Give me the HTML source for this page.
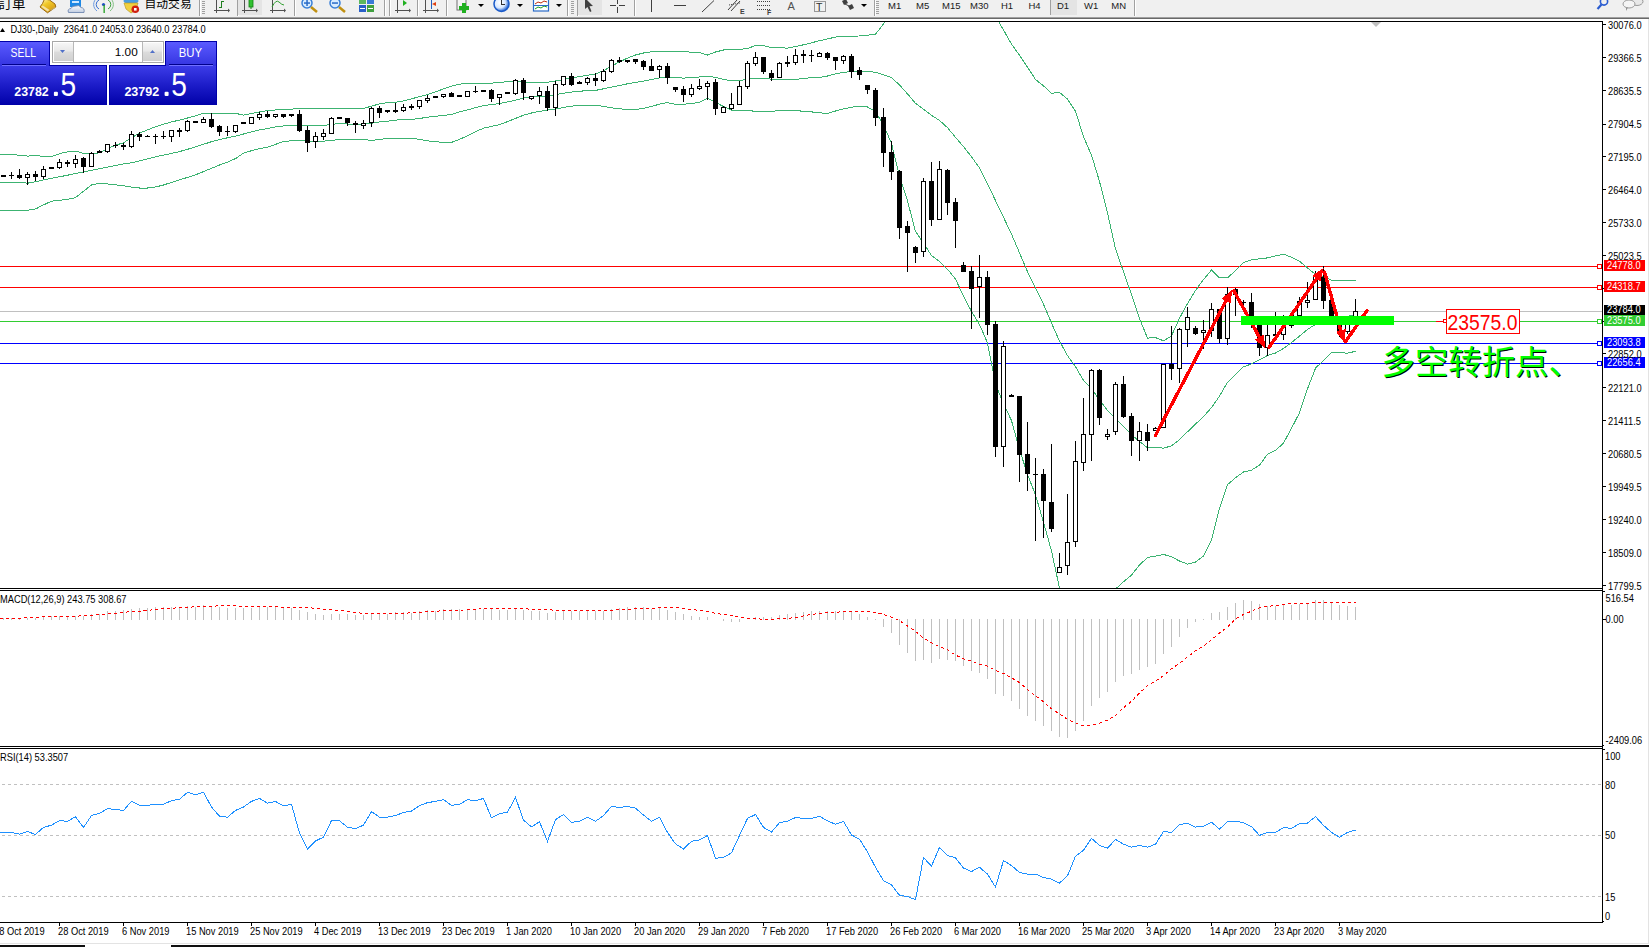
<!DOCTYPE html><html><head><meta charset="utf-8"><title>DJ30 Daily</title><style>
html,body{margin:0;padding:0;background:#fff;width:1649px;height:947px;overflow:hidden;position:relative;}
*{box-sizing:border-box}
.tb{position:absolute;left:0;top:0;width:1649px;height:17px;background:#f0f0f0;}
</style></head><body>
<div class="tb"></div>
<svg width="1649" height="17" style="position:absolute;left:0;top:0"><defs><linearGradient id="tgold" x1="0.2" y1="0" x2="0.8" y2="1"><stop offset="0" stop-color="#fff0a0"/><stop offset="0.35" stop-color="#f0c828"/><stop offset="1" stop-color="#d09010"/></linearGradient><linearGradient id="tcloud" x1="0" y1="0" x2="0" y2="1"><stop offset="0" stop-color="#ffffff"/><stop offset="1" stop-color="#c0cce0"/></linearGradient><radialGradient id="tclock" cx="0.4" cy="0.4" r="0.6"><stop offset="0" stop-color="#ffffff"/><stop offset="0.6" stop-color="#d8e8ff"/><stop offset="1" stop-color="#2060d0"/></radialGradient></defs><text x="-1.5" y="8" font-family='"Liberation Sans", "Noto Sans CJK SC", sans-serif' font-size="13.5" fill="#000">訂單</text><polygon points="44.5,-1 49.5,0 55,4 55.8,7 47.5,12.8 40,7 42.5,3.5" fill="url(#tgold)" stroke="#9a6810" stroke-width="1"/><polygon points="41.2,6.8 42.8,5.6 49.6,10 47.6,11.6" fill="#f4e0a0"/><polygon points="50.5,10 55.2,6.8 55.5,7.6 51,10.8" fill="#c8b070"/><rect x="70" y="-2" width="11" height="9" fill="#1e88e5"/><rect x="72" y="1" width="7" height="2" fill="#cfe8ff"/><path d="M68.5,12.5 Q67,9 71,8.5 Q72,5.5 76,6 Q79,4.5 81,7.5 Q85,8 84,12.5 Z" fill="url(#tcloud)" stroke="#7088b0" stroke-width="0.9"/><path d="M99,9 A5,5 0 0 1 99,0" fill="none" stroke="#3a70d0" stroke-width="1"/><path d="M97,11 A8,8 0 0 1 97,-2" fill="none" stroke="#6a98e0" stroke-width="1"/><path d="M108,0 A5,5 0 0 1 108,9" fill="none" stroke="#40a040" stroke-width="1"/><path d="M110,-2 A8,8 0 0 1 110,11" fill="none" stroke="#80c080" stroke-width="1"/><circle cx="103.5" cy="4.5" r="1.6" fill="#2050c0"/><rect x="103.5" y="5" width="1.3" height="8" fill="#20a020"/><ellipse cx="131" cy="1" rx="7.5" ry="3" fill="#4a9ee0"/><polygon points="124,3 138,3 136,10 131,13 126,9" fill="#f0d040" stroke="#b09020" stroke-width="0.6"/><circle cx="135.3" cy="9.3" r="3.8" fill="#d02010"/><rect x="134" y="8" width="2.6" height="2.6" fill="#fff"/><text x="144.5" y="8" font-family='"Liberation Sans", "Noto Sans CJK SC", sans-serif' font-size="11.8" fill="#000">自动交易</text><rect x="199" y="0" width="1" height="16" fill="#a0a0a0"/><rect x="200" y="0" width="1" height="16" fill="#ffffff"/><rect x="202" y="1" width="3" height="1" fill="#a0a0a0"/><rect x="202" y="3" width="3" height="1" fill="#a0a0a0"/><rect x="202" y="5" width="3" height="1" fill="#a0a0a0"/><rect x="202" y="7" width="3" height="1" fill="#a0a0a0"/><rect x="202" y="9" width="3" height="1" fill="#a0a0a0"/><rect x="202" y="11" width="3" height="1" fill="#a0a0a0"/><rect x="202" y="13" width="3" height="1" fill="#a0a0a0"/><rect x="216" y="0" width="1" height="13" fill="#505050"/><rect x="214" y="10" width="14" height="1" fill="#505050"/><polygon points="228,8.5 230,10.5 228,12.5" fill="#505050"/><rect x="221" y="1" width="1" height="7" fill="#208020"/><rect x="222" y="1" width="2" height="1" fill="#208020"/><rect x="219" y="7" width="2" height="1" fill="#208020"/><rect x="237" y="0" width="1" height="16" fill="#a0a0a0"/><rect x="238" y="0" width="1" height="16" fill="#ffffff"/><rect x="238" y="0" width="24" height="15" fill="#e4e4e4"/><rect x="244" y="0" width="1" height="13" fill="#505050"/><rect x="242" y="10" width="14" height="1" fill="#505050"/><polygon points="256,8.5 258,10.5 256,12.5" fill="#505050"/><rect x="249" y="-1" width="4" height="8" fill="#30c030" stroke="#108010" stroke-width="0.8"/><rect x="250.5" y="7" width="1" height="2" fill="#108010"/><rect x="272" y="0" width="1" height="13" fill="#505050"/><rect x="270" y="10" width="14" height="1" fill="#505050"/><polygon points="284,8.5 286,10.5 284,12.5" fill="#505050"/><path d="M272,7 Q276,-1 279,2 T284,5" fill="none" stroke="#30a030" stroke-width="1"/><rect x="294" y="0" width="1" height="16" fill="#a0a0a0"/><rect x="295" y="0" width="1" height="16" fill="#ffffff"/><circle cx="307" cy="3" r="5" fill="#d8ecff" stroke="#3a80d8" stroke-width="1.5"/><line x1="311" y1="7" x2="317" y2="12" stroke="#c09010" stroke-width="2.5"/><rect x="304" y="2.3" width="6" height="1.5" fill="#2a6cc8"/><rect x="306.3" y="0" width="1.5" height="6" fill="#2a6cc8"/><circle cx="335" cy="3" r="5" fill="#d8ecff" stroke="#3a80d8" stroke-width="1.5"/><line x1="339" y1="7" x2="345" y2="12" stroke="#c09010" stroke-width="2.5"/><rect x="332" y="2.3" width="6" height="1.5" fill="#2a6cc8"/><rect x="359" y="-2" width="7" height="6" fill="#5cb85c"/><rect x="367" y="-2" width="7" height="6" fill="#3a7ad8"/><rect x="359" y="5" width="7" height="7" fill="#2a60c8"/><rect x="367" y="5" width="7" height="7" fill="#40a040"/><rect x="360" y="8" width="5" height="1" fill="#fff"/><rect x="368" y="8" width="5" height="1" fill="#fff"/><rect x="384" y="0" width="1" height="16" fill="#a0a0a0"/><rect x="385" y="0" width="1" height="16" fill="#ffffff"/><rect x="389" y="0" width="1" height="16" fill="#a0a0a0"/><rect x="390" y="0" width="1" height="16" fill="#ffffff"/><rect x="397" y="0" width="1" height="13" fill="#505050"/><rect x="395" y="10" width="14" height="1" fill="#505050"/><polygon points="409,8.5 411,10.5 409,12.5" fill="#505050"/><polygon points="403,0 407,3 403,6" fill="#20b020"/><rect x="417" y="0" width="1" height="16" fill="#a0a0a0"/><rect x="418" y="0" width="1" height="16" fill="#ffffff"/><rect x="425" y="0" width="1" height="13" fill="#505050"/><rect x="423" y="10" width="14" height="1" fill="#505050"/><polygon points="437,8.5 439,10.5 437,12.5" fill="#505050"/><rect x="431" y="0" width="1" height="9" fill="#2060c0"/><polygon points="432,4 436,2 436,6" fill="#e04010"/><rect x="446" y="0" width="1" height="16" fill="#a0a0a0"/><rect x="447" y="0" width="1" height="16" fill="#ffffff"/><rect x="457" y="-1" width="9" height="11" fill="#f4f4f4" stroke="#707070" stroke-width="1"/><rect x="462" y="3" width="4" height="10" fill="#20b020"/><rect x="459" y="6" width="10" height="4" fill="#20b020"/><polygon points="478,4 484,4 481,7" fill="#000"/><circle cx="501.5" cy="4" r="7.5" fill="url(#tclock)" stroke="#1a5ac8" stroke-width="1.5"/><rect x="501" y="0" width="1" height="5" fill="#303030"/><rect x="501" y="4" width="4" height="1" fill="#303030"/><polygon points="517,4 523,4 520,7" fill="#000"/><rect x="533.5" y="-1" width="15" height="12" fill="#fff" stroke="#2a6cc8" stroke-width="1.2"/><polyline points="535,4 538,2 541,3 544,1 547,2" fill="none" stroke="#c03010" stroke-width="1"/><polyline points="535,9 538,7 541,8 544,6 547,7" fill="none" stroke="#20a020" stroke-width="1"/><rect x="534" y="5" width="14" height="1" fill="#2a6cc8"/><polygon points="556,4 562,4 559,7" fill="#000"/><rect x="567" y="0" width="1" height="16" fill="#a0a0a0"/><rect x="568" y="0" width="1" height="16" fill="#ffffff"/><rect x="571" y="1" width="3" height="1" fill="#a0a0a0"/><rect x="571" y="3" width="3" height="1" fill="#a0a0a0"/><rect x="571" y="5" width="3" height="1" fill="#a0a0a0"/><rect x="571" y="7" width="3" height="1" fill="#a0a0a0"/><rect x="571" y="9" width="3" height="1" fill="#a0a0a0"/><rect x="571" y="11" width="3" height="1" fill="#a0a0a0"/><rect x="571" y="13" width="3" height="1" fill="#a0a0a0"/><rect x="577" y="0" width="1" height="16" fill="#a0a0a0"/><rect x="578" y="0" width="1" height="16" fill="#ffffff"/><rect x="578" y="0" width="24" height="15" fill="#e4e4e4"/><polygon points="585,-2 585,9 587.5,7 590,12 591.5,11.3 589.5,6.3 593,6" fill="#404040"/><rect x="610" y="5" width="15" height="1" fill="#404040"/><rect x="617" y="-2" width="1" height="15" fill="#404040"/><rect x="616" y="4" width="3" height="3" fill="#f0f0f0"/><rect x="634" y="0" width="1" height="16" fill="#a0a0a0"/><rect x="635" y="0" width="1" height="16" fill="#ffffff"/><rect x="651" y="0" width="1" height="12" fill="#404040"/><rect x="674" y="5" width="12" height="1" fill="#404040"/><line x1="702" y1="12" x2="714" y2="0.5" stroke="#404040" stroke-width="1"/><line x1="728" y1="10" x2="737" y2="0" stroke="#404040" stroke-width="1"/><line x1="731" y1="11" x2="740" y2="1" stroke="#404040" stroke-width="1"/><line x1="729" y1="5" x2="740" y2="3" stroke="#404040" stroke-width="1" stroke-dasharray="1 1"/><text x="740" y="14" font-family='"Liberation Sans", "DejaVu Sans", sans-serif' font-size="7" font-weight="bold" fill="#404040">E</text><line x1="757" y1="1.5" x2="770" y2="1.5" stroke="#404040" stroke-width="1" stroke-dasharray="1 1"/><line x1="757" y1="5.5" x2="770" y2="5.5" stroke="#404040" stroke-width="1" stroke-dasharray="1 1"/><line x1="757" y1="9.5" x2="770" y2="9.5" stroke="#404040" stroke-width="1" stroke-dasharray="1 1"/><text x="767" y="14.5" font-family='"Liberation Sans", "DejaVu Sans", sans-serif' font-size="7" font-weight="bold" fill="#404040">F</text><text x="787.5" y="10" font-family='"Liberation Sans", "DejaVu Sans", sans-serif' font-size="11" fill="#505050">A</text><rect x="814.5" y="1.5" width="11" height="10" fill="none" stroke="#404040" stroke-width="1" stroke-dasharray="1 1"/><text x="816" y="10.5" font-family='"Liberation Sans", "DejaVu Sans", sans-serif' font-size="10.5" fill="#303030">T</text><polygon points="842,1 846,-1 848,3 844,5" fill="#404040"/><polygon points="848,6 852,4 854,8 850,10" fill="#404040"/><line x1="845" y1="4" x2="851" y2="7" stroke="#404040" stroke-width="1"/><polygon points="861,4 867,4 864,7" fill="#000"/><rect x="874" y="0" width="1" height="16" fill="#a0a0a0"/><rect x="875" y="0" width="1" height="16" fill="#ffffff"/><rect x="876" y="1" width="3" height="1" fill="#a0a0a0"/><rect x="876" y="3" width="3" height="1" fill="#a0a0a0"/><rect x="876" y="5" width="3" height="1" fill="#a0a0a0"/><rect x="876" y="7" width="3" height="1" fill="#a0a0a0"/><rect x="876" y="9" width="3" height="1" fill="#a0a0a0"/><rect x="876" y="11" width="3" height="1" fill="#a0a0a0"/><rect x="876" y="13" width="3" height="1" fill="#a0a0a0"/><rect x="1051" y="0" width="26" height="15" fill="#e4e4e4"/><rect x="1050" y="0" width="1" height="15" fill="#a0a0a0"/><text x="888" y="9" font-family='"Liberation Sans", "DejaVu Sans", sans-serif' font-size="9.5" fill="#202020">M1</text><text x="916" y="9" font-family='"Liberation Sans", "DejaVu Sans", sans-serif' font-size="9.5" fill="#202020">M5</text><text x="942" y="9" font-family='"Liberation Sans", "DejaVu Sans", sans-serif' font-size="9.5" fill="#202020">M15</text><text x="970" y="9" font-family='"Liberation Sans", "DejaVu Sans", sans-serif' font-size="9.5" fill="#202020">M30</text><text x="1001" y="9" font-family='"Liberation Sans", "DejaVu Sans", sans-serif' font-size="9.5" fill="#202020">H1</text><text x="1028.5" y="9" font-family='"Liberation Sans", "DejaVu Sans", sans-serif' font-size="9.5" fill="#202020">H4</text><text x="1057" y="9" font-family='"Liberation Sans", "DejaVu Sans", sans-serif' font-size="9.5" fill="#202020">D1</text><text x="1084" y="9" font-family='"Liberation Sans", "DejaVu Sans", sans-serif' font-size="9.5" fill="#202020">W1</text><text x="1111.3" y="9" font-family='"Liberation Sans", "DejaVu Sans", sans-serif' font-size="9.5" fill="#202020">MN</text><rect x="1134" y="0" width="1" height="16" fill="#a0a0a0"/><rect x="1135" y="0" width="1" height="16" fill="#ffffff"/><circle cx="1604" cy="1.5" r="3.6" fill="none" stroke="#2a5cd0" stroke-width="1.6"/><line x1="1601.5" y1="4.5" x2="1597.5" y2="9" stroke="#2a5cd0" stroke-width="2.2"/><ellipse cx="1637" cy="1.5" rx="6" ry="4" fill="#e8e8e8" stroke="#909090" stroke-width="0.9"/><ellipse cx="1629" cy="4" rx="6" ry="4" fill="#f4f4f4" stroke="#909090" stroke-width="0.9"/><polygon points="1626,7.5 1628,7.5 1626,11" fill="#909090"/></svg>
<div style="position:absolute;left:0;top:17px;width:1649px;height:1px;background:#a0a0a0"></div>
<div style="position:absolute;left:0;top:18px;width:1649px;height:1px;background:#696969"></div>
<svg width="1649" height="947" viewBox="0 0 1649 947" style="position:absolute;left:0;top:0" shape-rendering="crispEdges"><defs><clipPath id="cm"><rect x="0" y="22" width="1602" height="566"/></clipPath><clipPath id="cd"><rect x="0" y="591" width="1602" height="155"/></clipPath><clipPath id="cr"><rect x="0" y="749" width="1602" height="173"/></clipPath></defs><g clip-path="url(#cm)"><rect x="0" y="266" width="1602" height="1" fill="#ff0000"/><rect x="0" y="287" width="1602" height="1" fill="#ff0000"/><rect x="0" y="311" width="1602" height="1" fill="#c0c0c0"/><rect x="0" y="321" width="1602" height="1" fill="#32cd32"/><rect x="0" y="343" width="1602" height="1" fill="#0000ff"/><rect x="0" y="363" width="1602" height="1" fill="#0000ff"/><polyline points="-4.5,154.5 3.5,154.5 11.5,154.5 19.5,155.3 27.5,156.1 35.5,155.4 43.5,156.4 51.5,156.4 59.5,153.7 67.5,151.8 75.5,151.2 83.5,153.3 91.5,154.4 99.5,152.8 107.5,148.5 115.5,145.2 123.5,142.8 131.5,137.6 139.5,133.2 147.5,129.8 155.5,126.8 163.5,124.2 171.5,121.9 179.5,120.1 187.5,118.0 195.5,115.9 203.5,113.2 211.5,113.2 219.5,113.2 227.5,113.3 235.5,113.3 243.5,115.2 251.5,113.4 259.5,111.9 267.5,110.7 275.5,110.0 283.5,109.5 291.5,109.1 299.5,108.7 307.5,108.4 315.5,108.8 323.5,108.9 331.5,108.1 339.5,108.1 347.5,108.1 355.5,108.3 363.5,108.5 371.5,106.1 379.5,103.9 387.5,102.7 395.5,102.2 403.5,100.9 411.5,98.8 419.5,96.7 427.5,94.6 435.5,91.8 443.5,88.9 451.5,86.1 459.5,84.1 467.5,83.7 475.5,83.4 483.5,83.2 491.5,83.1 499.5,82.5 507.5,81.6 515.5,81.7 523.5,81.9 531.5,82.2 539.5,82.2 547.5,82.2 555.5,81.0 563.5,79.5 571.5,78.0 579.5,76.6 587.5,75.2 595.5,73.9 603.5,70.7 611.5,66.1 619.5,61.9 627.5,58.1 635.5,55.0 643.5,53.0 651.5,51.7 659.5,51.1 667.5,51.1 675.5,51.1 683.5,51.1 691.5,52.5 699.5,52.5 707.5,55.0 715.5,52.0 723.5,50.0 731.5,49.5 739.5,49.5 747.5,48.4 755.5,45.6 763.5,45.6 771.5,47.5 779.5,47.6 787.5,48.2 795.5,46.5 803.5,44.8 811.5,42.8 819.5,40.7 827.5,38.9 835.5,37.1 843.5,36.2 851.5,36.1 859.5,36.0 867.5,35.2 875.5,34.2 883.5,24.0 891.5,12.5 899.5,0.7 907.5,-2.2 915.5,-4.7 923.5,-7.0 931.5,-9.4 939.5,-11.8 947.5,-10.0 955.5,-7.9 963.5,-5.7 971.5,-3.6 979.5,-1.5 987.5,3.9 995.5,16.3 1003.5,29.9 1011.5,44.2 1019.5,55.2 1027.5,67.1 1035.5,79.5 1043.5,85.9 1051.5,93.2 1059.5,92.5 1067.5,99.1 1075.5,111.2 1083.5,136.7 1091.5,155.2 1099.5,181.4 1107.5,212.9 1115.5,248.8 1123.5,271.8 1131.5,294.5 1139.5,318.5 1147.5,338.1 1155.5,337.6 1163.5,340.8 1171.5,335.9 1179.5,318.2 1187.5,303.5 1195.5,290.4 1203.5,279.6 1211.5,269.9 1219.5,278.0 1227.5,277.9 1235.5,270.6 1243.5,262.6 1251.5,259.8 1259.5,258.8 1267.5,257.9 1275.5,255.9 1283.5,254.2 1291.5,257.2 1299.5,261.2 1307.5,267.9 1315.5,274.4 1323.5,276.6 1331.5,280.1 1339.5,280.3 1347.5,280.3 1355.5,280.3" fill="none" stroke="#3cb371" stroke-width="1" /><polyline points="-4.5,182.3 3.5,182.3 11.5,182.3 19.5,182.3 27.5,183.2 35.5,181.7 43.5,179.9 51.5,178.3 59.5,176.8 67.5,175.2 75.5,173.6 83.5,172.0 91.5,170.4 99.5,168.8 107.5,167.1 115.5,165.5 123.5,163.9 131.5,162.8 139.5,160.9 147.5,158.9 155.5,156.8 163.5,155.1 171.5,153.4 179.5,151.6 187.5,149.3 195.5,146.9 203.5,144.3 211.5,141.7 219.5,139.5 227.5,137.8 235.5,136.2 243.5,134.0 251.5,131.9 259.5,129.9 267.5,128.5 275.5,127.0 283.5,125.9 291.5,125.1 299.5,125.0 307.5,125.6 315.5,125.6 323.5,125.5 331.5,124.4 339.5,123.5 347.5,124.0 355.5,124.5 363.5,124.3 371.5,123.2 379.5,122.0 387.5,121.2 395.5,120.1 403.5,119.5 411.5,119.5 419.5,118.5 427.5,117.2 435.5,116.2 443.5,115.6 451.5,114.4 459.5,111.9 467.5,109.9 475.5,107.7 483.5,105.5 491.5,104.7 499.5,103.5 507.5,101.9 515.5,100.2 523.5,98.0 531.5,96.7 539.5,96.4 547.5,96.2 555.5,94.6 563.5,93.2 571.5,92.1 579.5,91.2 587.5,90.7 595.5,90.4 603.5,88.8 611.5,87.1 619.5,85.6 627.5,83.8 635.5,82.3 643.5,81.2 651.5,79.4 659.5,78.0 667.5,77.3 675.5,77.3 683.5,78.2 691.5,77.2 699.5,77.0 707.5,76.4 715.5,77.3 723.5,79.5 731.5,80.6 739.5,80.6 747.5,79.2 755.5,78.5 763.5,78.5 771.5,79.1 779.5,79.4 787.5,79.5 795.5,79.5 803.5,78.5 811.5,77.7 819.5,77.4 827.5,76.0 835.5,73.9 843.5,72.2 851.5,71.7 859.5,71.4 867.5,71.3 875.5,72.4 883.5,74.7 891.5,77.6 899.5,85.0 907.5,93.9 915.5,103.3 923.5,109.3 931.5,115.3 939.5,120.4 947.5,127.7 955.5,137.3 963.5,146.7 971.5,156.7 979.5,168.0 987.5,183.8 995.5,200.6 1003.5,217.3 1011.5,234.1 1019.5,252.9 1027.5,271.7 1035.5,288.3 1043.5,304.3 1051.5,323.0 1059.5,341.1 1067.5,355.6 1075.5,366.7 1083.5,380.3 1091.5,388.3 1099.5,400.2 1107.5,410.4 1115.5,418.9 1123.5,426.5 1131.5,434.7 1139.5,441.4 1147.5,447.8 1155.5,447.6 1163.5,448.1 1171.5,445.9 1179.5,439.6 1187.5,431.8 1195.5,424.1 1203.5,416.7 1211.5,407.6 1219.5,396.1 1227.5,382.3 1235.5,374.8 1243.5,366.8 1251.5,363.9 1259.5,359.9 1267.5,355.5 1275.5,353.0 1283.5,348.5 1291.5,342.6 1299.5,336.1 1307.5,329.5 1315.5,324.3 1323.5,321.4 1331.5,318.8 1339.5,317.5 1347.5,316.3 1355.5,315.1" fill="none" stroke="#3cb371" stroke-width="1" /><polyline points="-4.5,210.2 3.5,210.2 11.5,210.2 19.5,210.2 27.5,210.2 35.5,209.0 43.5,204.9 51.5,201.2 59.5,200.4 67.5,199.3 75.5,197.6 83.5,191.3 91.5,185.0 99.5,183.1 107.5,184.0 115.5,184.9 123.5,185.7 131.5,187.1 139.5,188.0 147.5,188.0 155.5,187.0 163.5,185.0 171.5,182.4 179.5,179.9 187.5,177.4 195.5,174.8 203.5,171.6 211.5,168.3 219.5,165.0 227.5,162.2 235.5,158.6 243.5,153.2 251.5,150.7 259.5,148.5 267.5,147.3 275.5,144.4 283.5,141.5 291.5,140.8 299.5,140.7 307.5,141.0 315.5,141.1 323.5,141.2 331.5,140.3 339.5,139.6 347.5,139.3 355.5,139.3 363.5,139.4 371.5,140.5 379.5,139.4 387.5,138.5 395.5,138.5 403.5,138.5 411.5,138.5 419.5,139.3 427.5,140.8 435.5,141.8 443.5,142.3 451.5,142.4 459.5,139.4 467.5,135.7 475.5,131.7 483.5,128.2 491.5,126.4 499.5,124.6 507.5,121.6 515.5,118.4 523.5,115.2 531.5,113.0 539.5,111.4 547.5,110.1 555.5,109.1 563.5,107.5 571.5,106.1 579.5,105.5 587.5,105.2 595.5,105.2 603.5,106.4 611.5,107.8 619.5,108.8 627.5,109.4 635.5,109.4 643.5,108.4 651.5,106.5 659.5,104.1 667.5,102.6 675.5,104.3 683.5,104.3 691.5,103.5 699.5,102.3 707.5,98.4 715.5,102.4 723.5,106.5 731.5,110.2 739.5,110.2 747.5,110.2 755.5,111.5 763.5,111.5 771.5,111.5 779.5,110.3 787.5,110.4 795.5,110.7 803.5,111.2 811.5,111.9 819.5,112.8 827.5,113.4 835.5,111.0 843.5,108.9 851.5,107.2 859.5,106.4 867.5,107.0 875.5,111.6 883.5,124.9 891.5,143.4 899.5,176.4 907.5,200.8 915.5,231.5 923.5,242.9 931.5,255.7 939.5,261.3 947.5,269.2 955.5,279.1 963.5,296.1 971.5,311.4 979.5,324.5 987.5,342.9 995.5,384.0 1003.5,403.8 1011.5,420.6 1019.5,449.4 1027.5,474.5 1035.5,494.9 1043.5,522.1 1051.5,551.0 1059.5,587.9 1067.5,601.9 1075.5,615.2 1083.5,618.0 1091.5,620.8 1099.5,616.9 1107.5,607.8 1115.5,589.0 1123.5,581.8 1131.5,575.1 1139.5,565.0 1147.5,557.5 1155.5,556.1 1163.5,554.4 1171.5,556.8 1179.5,561.0 1187.5,564.1 1195.5,562.0 1203.5,556.0 1211.5,540.3 1219.5,508.5 1227.5,484.7 1235.5,477.8 1243.5,472.0 1251.5,470.1 1259.5,465.1 1267.5,454.3 1275.5,450.4 1283.5,443.2 1291.5,428.3 1299.5,412.8 1307.5,388.9 1315.5,368.2 1323.5,360.3 1331.5,352.3 1339.5,352.5 1347.5,353.2 1355.5,351.3" fill="none" stroke="#3cb371" stroke-width="1" /><rect x="3" y="175" width="1" height="2" fill="#000"/><rect x="1" y="175" width="5" height="2" fill="#000"/><rect x="11" y="172" width="1" height="7" fill="#000"/><rect x="9" y="175" width="5" height="1" fill="#000"/><rect x="19" y="169" width="1" height="10" fill="#000"/><rect x="17" y="175" width="5" height="3" fill="#000"/><rect x="27" y="172" width="1" height="13" fill="#000"/><rect x="25" y="174" width="5" height="4" fill="#000"/><rect x="26" y="175" width="3" height="2" fill="#fff"/><rect x="35" y="171" width="1" height="10" fill="#000"/><rect x="33" y="174" width="5" height="3" fill="#000"/><rect x="43" y="166" width="1" height="13" fill="#000"/><rect x="41" y="169" width="5" height="8" fill="#000"/><rect x="42" y="170" width="3" height="6" fill="#fff"/><rect x="51" y="167" width="1" height="2" fill="#000"/><rect x="49" y="167" width="5" height="2" fill="#000"/><rect x="59" y="159" width="1" height="10" fill="#000"/><rect x="57" y="162" width="5" height="6" fill="#000"/><rect x="58" y="163" width="3" height="4" fill="#fff"/><rect x="67" y="160" width="1" height="7" fill="#000"/><rect x="65" y="162" width="5" height="2" fill="#000"/><rect x="75" y="155" width="1" height="13" fill="#000"/><rect x="73" y="159" width="5" height="5" fill="#000"/><rect x="74" y="160" width="3" height="3" fill="#fff"/><rect x="83" y="157" width="1" height="16" fill="#000"/><rect x="81" y="158" width="5" height="9" fill="#000"/><rect x="91" y="152" width="1" height="15" fill="#000"/><rect x="89" y="153" width="5" height="14" fill="#000"/><rect x="90" y="154" width="3" height="12" fill="#fff"/><rect x="99" y="150" width="1" height="3" fill="#000"/><rect x="97" y="151" width="5" height="2" fill="#000"/><rect x="107" y="144" width="1" height="9" fill="#000"/><rect x="105" y="144" width="5" height="8" fill="#000"/><rect x="106" y="145" width="3" height="6" fill="#fff"/><rect x="115" y="142" width="1" height="6" fill="#000"/><rect x="113" y="145" width="5" height="1" fill="#000"/><rect x="123" y="143" width="1" height="7" fill="#000"/><rect x="121" y="145" width="5" height="2" fill="#000"/><rect x="131" y="131" width="1" height="17" fill="#000"/><rect x="129" y="134" width="5" height="13" fill="#000"/><rect x="130" y="135" width="3" height="11" fill="#fff"/><rect x="139" y="132" width="1" height="9" fill="#000"/><rect x="137" y="134" width="5" height="3" fill="#000"/><rect x="147" y="135" width="1" height="2" fill="#000"/><rect x="145" y="136" width="5" height="1" fill="#000"/><rect x="155" y="134" width="1" height="10" fill="#000"/><rect x="153" y="136" width="5" height="1" fill="#000"/><rect x="163" y="131" width="1" height="8" fill="#000"/><rect x="161" y="136" width="5" height="1" fill="#000"/><rect x="171" y="130" width="1" height="12" fill="#000"/><rect x="169" y="130" width="5" height="7" fill="#000"/><rect x="170" y="131" width="3" height="5" fill="#fff"/><rect x="179" y="128" width="1" height="9" fill="#000"/><rect x="177" y="130" width="5" height="2" fill="#000"/><rect x="187" y="120" width="1" height="12" fill="#000"/><rect x="185" y="121" width="5" height="10" fill="#000"/><rect x="186" y="122" width="3" height="8" fill="#fff"/><rect x="195" y="121" width="1" height="2" fill="#000"/><rect x="193" y="121" width="5" height="2" fill="#000"/><rect x="203" y="117" width="1" height="6" fill="#000"/><rect x="201" y="119" width="5" height="4" fill="#000"/><rect x="202" y="120" width="3" height="2" fill="#fff"/><rect x="211" y="113" width="1" height="15" fill="#000"/><rect x="209" y="119" width="5" height="8" fill="#000"/><rect x="219" y="125" width="1" height="11" fill="#000"/><rect x="217" y="126" width="5" height="6" fill="#000"/><rect x="227" y="126" width="1" height="10" fill="#000"/><rect x="225" y="131" width="5" height="1" fill="#000"/><rect x="235" y="125" width="1" height="8" fill="#000"/><rect x="233" y="125" width="5" height="7" fill="#000"/><rect x="234" y="126" width="3" height="5" fill="#fff"/><rect x="243" y="122" width="1" height="2" fill="#000"/><rect x="241" y="122" width="5" height="2" fill="#000"/><rect x="251" y="117" width="1" height="7" fill="#000"/><rect x="249" y="117" width="5" height="7" fill="#000"/><rect x="250" y="118" width="3" height="5" fill="#fff"/><rect x="259" y="112" width="1" height="8" fill="#000"/><rect x="257" y="114" width="5" height="4" fill="#000"/><rect x="258" y="115" width="3" height="2" fill="#fff"/><rect x="267" y="111" width="1" height="7" fill="#000"/><rect x="265" y="114" width="5" height="3" fill="#000"/><rect x="275" y="114" width="1" height="4" fill="#000"/><rect x="273" y="114" width="5" height="3" fill="#000"/><rect x="274" y="115" width="3" height="1" fill="#fff"/><rect x="283" y="114" width="1" height="4" fill="#000"/><rect x="281" y="114" width="5" height="3" fill="#000"/><rect x="291" y="114" width="1" height="3" fill="#000"/><rect x="289" y="114" width="5" height="2" fill="#000"/><rect x="299" y="110" width="1" height="22" fill="#000"/><rect x="297" y="114" width="5" height="17" fill="#000"/><rect x="307" y="126" width="1" height="26" fill="#000"/><rect x="305" y="130" width="5" height="13" fill="#000"/><rect x="315" y="132" width="1" height="16" fill="#000"/><rect x="313" y="136" width="5" height="6" fill="#000"/><rect x="314" y="137" width="3" height="4" fill="#fff"/><rect x="323" y="129" width="1" height="11" fill="#000"/><rect x="321" y="133" width="5" height="4" fill="#000"/><rect x="322" y="134" width="3" height="2" fill="#fff"/><rect x="331" y="117" width="1" height="17" fill="#000"/><rect x="329" y="118" width="5" height="16" fill="#000"/><rect x="330" y="119" width="3" height="14" fill="#fff"/><rect x="339" y="117" width="1" height="2" fill="#000"/><rect x="337" y="117" width="5" height="2" fill="#000"/><rect x="347" y="118" width="1" height="8" fill="#000"/><rect x="345" y="118" width="5" height="5" fill="#000"/><rect x="355" y="121" width="1" height="12" fill="#000"/><rect x="353" y="123" width="5" height="2" fill="#000"/><rect x="363" y="120" width="1" height="9" fill="#000"/><rect x="361" y="123" width="5" height="3" fill="#000"/><rect x="362" y="124" width="3" height="1" fill="#fff"/><rect x="371" y="107" width="1" height="20" fill="#000"/><rect x="369" y="108" width="5" height="15" fill="#000"/><rect x="370" y="109" width="3" height="13" fill="#fff"/><rect x="379" y="106" width="1" height="12" fill="#000"/><rect x="377" y="108" width="5" height="5" fill="#000"/><rect x="387" y="110" width="1" height="3" fill="#000"/><rect x="385" y="110" width="5" height="2" fill="#000"/><rect x="395" y="103" width="1" height="10" fill="#000"/><rect x="393" y="110" width="5" height="2" fill="#000"/><rect x="403" y="104" width="1" height="8" fill="#000"/><rect x="401" y="107" width="5" height="4" fill="#000"/><rect x="402" y="108" width="3" height="2" fill="#fff"/><rect x="411" y="104" width="1" height="6" fill="#000"/><rect x="409" y="106" width="5" height="2" fill="#000"/><rect x="419" y="100" width="1" height="9" fill="#000"/><rect x="417" y="100" width="5" height="7" fill="#000"/><rect x="418" y="101" width="3" height="5" fill="#fff"/><rect x="427" y="95" width="1" height="8" fill="#000"/><rect x="425" y="98" width="5" height="3" fill="#000"/><rect x="426" y="99" width="3" height="1" fill="#fff"/><rect x="435" y="96" width="1" height="2" fill="#000"/><rect x="433" y="96" width="5" height="2" fill="#000"/><rect x="443" y="94" width="1" height="4" fill="#000"/><rect x="441" y="94" width="5" height="3" fill="#000"/><rect x="442" y="95" width="3" height="1" fill="#fff"/><rect x="451" y="92" width="1" height="5" fill="#000"/><rect x="449" y="93" width="5" height="4" fill="#000"/><rect x="459" y="95" width="1" height="2" fill="#000"/><rect x="457" y="95" width="5" height="2" fill="#000"/><rect x="467" y="91" width="1" height="6" fill="#000"/><rect x="465" y="91" width="5" height="6" fill="#000"/><rect x="466" y="92" width="3" height="4" fill="#fff"/><rect x="475" y="86" width="1" height="7" fill="#000"/><rect x="473" y="91" width="5" height="1" fill="#000"/><rect x="483" y="90" width="1" height="2" fill="#000"/><rect x="481" y="90" width="5" height="2" fill="#000"/><rect x="491" y="89" width="1" height="13" fill="#000"/><rect x="489" y="90" width="5" height="9" fill="#000"/><rect x="499" y="94" width="1" height="11" fill="#000"/><rect x="497" y="94" width="5" height="4" fill="#000"/><rect x="498" y="95" width="3" height="2" fill="#fff"/><rect x="507" y="92" width="1" height="2" fill="#000"/><rect x="505" y="92" width="5" height="2" fill="#000"/><rect x="515" y="79" width="1" height="16" fill="#000"/><rect x="513" y="80" width="5" height="14" fill="#000"/><rect x="514" y="81" width="3" height="12" fill="#fff"/><rect x="523" y="78" width="1" height="22" fill="#000"/><rect x="521" y="80" width="5" height="13" fill="#000"/><rect x="531" y="96" width="1" height="4" fill="#000"/><rect x="529" y="96" width="5" height="3" fill="#000"/><rect x="530" y="97" width="3" height="1" fill="#fff"/><rect x="539" y="87" width="1" height="17" fill="#000"/><rect x="537" y="91" width="5" height="5" fill="#000"/><rect x="538" y="92" width="3" height="3" fill="#fff"/><rect x="547" y="86" width="1" height="25" fill="#000"/><rect x="545" y="91" width="5" height="17" fill="#000"/><rect x="555" y="81" width="1" height="35" fill="#000"/><rect x="553" y="84" width="5" height="24" fill="#000"/><rect x="554" y="85" width="3" height="22" fill="#fff"/><rect x="563" y="76" width="1" height="10" fill="#000"/><rect x="561" y="76" width="5" height="9" fill="#000"/><rect x="562" y="77" width="3" height="7" fill="#fff"/><rect x="571" y="73" width="1" height="13" fill="#000"/><rect x="569" y="76" width="5" height="9" fill="#000"/><rect x="579" y="81" width="1" height="3" fill="#000"/><rect x="577" y="82" width="5" height="2" fill="#000"/><rect x="587" y="77" width="1" height="8" fill="#000"/><rect x="585" y="78" width="5" height="5" fill="#000"/><rect x="586" y="79" width="3" height="3" fill="#fff"/><rect x="595" y="73" width="1" height="13" fill="#000"/><rect x="593" y="78" width="5" height="3" fill="#000"/><rect x="603" y="69" width="1" height="13" fill="#000"/><rect x="601" y="71" width="5" height="10" fill="#000"/><rect x="602" y="72" width="3" height="8" fill="#fff"/><rect x="611" y="59" width="1" height="14" fill="#000"/><rect x="609" y="60" width="5" height="12" fill="#000"/><rect x="610" y="61" width="3" height="10" fill="#fff"/><rect x="619" y="57" width="1" height="6" fill="#000"/><rect x="617" y="60" width="5" height="2" fill="#000"/><rect x="627" y="60" width="1" height="3" fill="#000"/><rect x="625" y="60" width="5" height="2" fill="#000"/><rect x="635" y="59" width="1" height="5" fill="#000"/><rect x="633" y="59" width="5" height="3" fill="#000"/><rect x="643" y="60" width="1" height="10" fill="#000"/><rect x="641" y="61" width="5" height="6" fill="#000"/><rect x="651" y="59" width="1" height="12" fill="#000"/><rect x="649" y="66" width="5" height="5" fill="#000"/><rect x="659" y="65" width="1" height="13" fill="#000"/><rect x="657" y="66" width="5" height="4" fill="#000"/><rect x="658" y="67" width="3" height="2" fill="#fff"/><rect x="667" y="63" width="1" height="21" fill="#000"/><rect x="665" y="66" width="5" height="12" fill="#000"/><rect x="675" y="87" width="1" height="5" fill="#000"/><rect x="673" y="87" width="5" height="3" fill="#000"/><rect x="683" y="86" width="1" height="16" fill="#000"/><rect x="681" y="89" width="5" height="6" fill="#000"/><rect x="691" y="84" width="1" height="13" fill="#000"/><rect x="689" y="88" width="5" height="7" fill="#000"/><rect x="690" y="89" width="3" height="5" fill="#fff"/><rect x="699" y="79" width="1" height="11" fill="#000"/><rect x="697" y="86" width="5" height="3" fill="#000"/><rect x="698" y="87" width="3" height="1" fill="#fff"/><rect x="707" y="81" width="1" height="19" fill="#000"/><rect x="705" y="83" width="5" height="4" fill="#000"/><rect x="706" y="84" width="3" height="2" fill="#fff"/><rect x="715" y="79" width="1" height="36" fill="#000"/><rect x="713" y="82" width="5" height="27" fill="#000"/><rect x="723" y="106" width="1" height="7" fill="#000"/><rect x="721" y="107" width="5" height="6" fill="#000"/><rect x="722" y="108" width="3" height="4" fill="#fff"/><rect x="731" y="93" width="1" height="17" fill="#000"/><rect x="729" y="104" width="5" height="5" fill="#000"/><rect x="730" y="105" width="3" height="3" fill="#fff"/><rect x="739" y="81" width="1" height="24" fill="#000"/><rect x="737" y="86" width="5" height="19" fill="#000"/><rect x="738" y="87" width="3" height="17" fill="#fff"/><rect x="747" y="61" width="1" height="28" fill="#000"/><rect x="745" y="63" width="5" height="24" fill="#000"/><rect x="746" y="64" width="3" height="22" fill="#fff"/><rect x="755" y="52" width="1" height="14" fill="#000"/><rect x="753" y="57" width="5" height="7" fill="#000"/><rect x="754" y="58" width="3" height="5" fill="#fff"/><rect x="763" y="57" width="1" height="17" fill="#000"/><rect x="761" y="57" width="5" height="15" fill="#000"/><rect x="771" y="70" width="1" height="11" fill="#000"/><rect x="769" y="73" width="5" height="5" fill="#000"/><rect x="779" y="62" width="1" height="16" fill="#000"/><rect x="777" y="63" width="5" height="15" fill="#000"/><rect x="778" y="64" width="3" height="13" fill="#fff"/><rect x="787" y="56" width="1" height="11" fill="#000"/><rect x="785" y="62" width="5" height="2" fill="#000"/><rect x="795" y="49" width="1" height="16" fill="#000"/><rect x="793" y="55" width="5" height="8" fill="#000"/><rect x="794" y="56" width="3" height="6" fill="#fff"/><rect x="803" y="50" width="1" height="13" fill="#000"/><rect x="801" y="54" width="5" height="2" fill="#000"/><rect x="811" y="50" width="1" height="12" fill="#000"/><rect x="809" y="55" width="5" height="1" fill="#000"/><rect x="819" y="52" width="1" height="5" fill="#000"/><rect x="817" y="53" width="5" height="4" fill="#000"/><rect x="818" y="54" width="3" height="2" fill="#fff"/><rect x="827" y="52" width="1" height="8" fill="#000"/><rect x="825" y="53" width="5" height="5" fill="#000"/><rect x="835" y="57" width="1" height="13" fill="#000"/><rect x="833" y="57" width="5" height="4" fill="#000"/><rect x="843" y="55" width="1" height="9" fill="#000"/><rect x="841" y="56" width="5" height="5" fill="#000"/><rect x="842" y="57" width="3" height="3" fill="#fff"/><rect x="851" y="54" width="1" height="24" fill="#000"/><rect x="849" y="56" width="5" height="16" fill="#000"/><rect x="859" y="67" width="1" height="13" fill="#000"/><rect x="857" y="70" width="5" height="5" fill="#000"/><rect x="867" y="85" width="1" height="9" fill="#000"/><rect x="865" y="85" width="5" height="5" fill="#000"/><rect x="875" y="88" width="1" height="38" fill="#000"/><rect x="873" y="90" width="5" height="28" fill="#000"/><rect x="883" y="108" width="1" height="59" fill="#000"/><rect x="881" y="117" width="5" height="36" fill="#000"/><rect x="891" y="141" width="1" height="39" fill="#000"/><rect x="889" y="152" width="5" height="20" fill="#000"/><rect x="899" y="170" width="1" height="69" fill="#000"/><rect x="897" y="171" width="5" height="57" fill="#000"/><rect x="907" y="221" width="1" height="51" fill="#000"/><rect x="905" y="226" width="5" height="7" fill="#000"/><rect x="915" y="246" width="1" height="17" fill="#000"/><rect x="913" y="247" width="5" height="6" fill="#000"/><rect x="923" y="178" width="1" height="79" fill="#000"/><rect x="921" y="181" width="5" height="71" fill="#000"/><rect x="922" y="182" width="3" height="69" fill="#fff"/><rect x="931" y="162" width="1" height="64" fill="#000"/><rect x="929" y="181" width="5" height="39" fill="#000"/><rect x="939" y="161" width="1" height="59" fill="#000"/><rect x="937" y="169" width="5" height="51" fill="#000"/><rect x="938" y="170" width="3" height="49" fill="#fff"/><rect x="947" y="169" width="1" height="46" fill="#000"/><rect x="945" y="170" width="5" height="33" fill="#000"/><rect x="955" y="198" width="1" height="50" fill="#000"/><rect x="953" y="202" width="5" height="19" fill="#000"/><rect x="963" y="262" width="1" height="10" fill="#000"/><rect x="961" y="265" width="5" height="7" fill="#000"/><rect x="971" y="266" width="1" height="63" fill="#000"/><rect x="969" y="271" width="5" height="18" fill="#000"/><rect x="979" y="255" width="1" height="63" fill="#000"/><rect x="977" y="277" width="5" height="10" fill="#000"/><rect x="978" y="278" width="3" height="8" fill="#fff"/><rect x="987" y="271" width="1" height="64" fill="#000"/><rect x="985" y="277" width="5" height="48" fill="#000"/><rect x="995" y="321" width="1" height="136" fill="#000"/><rect x="993" y="324" width="5" height="123" fill="#000"/><rect x="1003" y="341" width="1" height="126" fill="#000"/><rect x="1001" y="346" width="5" height="101" fill="#000"/><rect x="1002" y="347" width="3" height="99" fill="#fff"/><rect x="1011" y="394" width="1" height="3" fill="#000"/><rect x="1009" y="395" width="5" height="2" fill="#000"/><rect x="1019" y="396" width="1" height="86" fill="#000"/><rect x="1017" y="396" width="5" height="59" fill="#000"/><rect x="1027" y="422" width="1" height="69" fill="#000"/><rect x="1025" y="454" width="5" height="20" fill="#000"/><rect x="1035" y="458" width="1" height="83" fill="#000"/><rect x="1033" y="474" width="5" height="1" fill="#000"/><rect x="1043" y="469" width="1" height="69" fill="#000"/><rect x="1041" y="474" width="5" height="27" fill="#000"/><rect x="1051" y="444" width="1" height="88" fill="#000"/><rect x="1049" y="502" width="5" height="27" fill="#000"/><rect x="1059" y="553" width="1" height="20" fill="#000"/><rect x="1057" y="567" width="5" height="6" fill="#000"/><rect x="1058" y="568" width="3" height="4" fill="#fff"/><rect x="1067" y="494" width="1" height="81" fill="#000"/><rect x="1065" y="542" width="5" height="24" fill="#000"/><rect x="1066" y="543" width="3" height="22" fill="#fff"/><rect x="1075" y="441" width="1" height="106" fill="#000"/><rect x="1073" y="461" width="5" height="81" fill="#000"/><rect x="1074" y="462" width="3" height="79" fill="#fff"/><rect x="1083" y="398" width="1" height="73" fill="#000"/><rect x="1081" y="434" width="5" height="29" fill="#000"/><rect x="1082" y="435" width="3" height="27" fill="#fff"/><rect x="1091" y="369" width="1" height="92" fill="#000"/><rect x="1089" y="370" width="5" height="65" fill="#000"/><rect x="1090" y="371" width="3" height="63" fill="#fff"/><rect x="1099" y="369" width="1" height="56" fill="#000"/><rect x="1097" y="370" width="5" height="48" fill="#000"/><rect x="1107" y="429" width="1" height="11" fill="#000"/><rect x="1105" y="434" width="5" height="3" fill="#000"/><rect x="1106" y="435" width="3" height="1" fill="#fff"/><rect x="1115" y="382" width="1" height="53" fill="#000"/><rect x="1113" y="384" width="5" height="48" fill="#000"/><rect x="1114" y="385" width="3" height="46" fill="#fff"/><rect x="1123" y="376" width="1" height="42" fill="#000"/><rect x="1121" y="384" width="5" height="33" fill="#000"/><rect x="1131" y="413" width="1" height="43" fill="#000"/><rect x="1129" y="416" width="5" height="25" fill="#000"/><rect x="1139" y="422" width="1" height="39" fill="#000"/><rect x="1137" y="431" width="5" height="10" fill="#000"/><rect x="1138" y="432" width="3" height="8" fill="#fff"/><rect x="1147" y="424" width="1" height="27" fill="#000"/><rect x="1145" y="432" width="5" height="9" fill="#000"/><rect x="1155" y="427" width="1" height="4" fill="#000"/><rect x="1153" y="428" width="5" height="3" fill="#000"/><rect x="1154" y="429" width="3" height="1" fill="#fff"/><rect x="1163" y="364" width="1" height="64" fill="#000"/><rect x="1161" y="364" width="5" height="64" fill="#000"/><rect x="1162" y="365" width="3" height="62" fill="#fff"/><rect x="1171" y="326" width="1" height="54" fill="#000"/><rect x="1169" y="364" width="5" height="5" fill="#000"/><rect x="1179" y="328" width="1" height="55" fill="#000"/><rect x="1177" y="329" width="5" height="40" fill="#000"/><rect x="1178" y="330" width="3" height="38" fill="#fff"/><rect x="1187" y="307" width="1" height="40" fill="#000"/><rect x="1185" y="317" width="5" height="13" fill="#000"/><rect x="1186" y="318" width="3" height="11" fill="#fff"/><rect x="1195" y="326" width="1" height="9" fill="#000"/><rect x="1193" y="328" width="5" height="6" fill="#000"/><rect x="1203" y="320" width="1" height="29" fill="#000"/><rect x="1201" y="330" width="5" height="3" fill="#000"/><rect x="1202" y="331" width="3" height="1" fill="#fff"/><rect x="1211" y="303" width="1" height="34" fill="#000"/><rect x="1209" y="309" width="5" height="22" fill="#000"/><rect x="1210" y="310" width="3" height="20" fill="#fff"/><rect x="1219" y="309" width="1" height="34" fill="#000"/><rect x="1217" y="309" width="5" height="30" fill="#000"/><rect x="1227" y="287" width="1" height="58" fill="#000"/><rect x="1225" y="294" width="5" height="45" fill="#000"/><rect x="1226" y="295" width="3" height="43" fill="#fff"/><rect x="1235" y="288" width="1" height="28" fill="#000"/><rect x="1233" y="289" width="5" height="6" fill="#000"/><rect x="1243" y="300" width="1" height="5" fill="#000"/><rect x="1241" y="302" width="5" height="1" fill="#000"/><rect x="1251" y="293" width="1" height="35" fill="#000"/><rect x="1249" y="302" width="5" height="22" fill="#000"/><rect x="1259" y="318" width="1" height="38" fill="#000"/><rect x="1257" y="323" width="5" height="25" fill="#000"/><rect x="1267" y="325" width="1" height="31" fill="#000"/><rect x="1265" y="335" width="5" height="13" fill="#000"/><rect x="1266" y="336" width="3" height="11" fill="#fff"/><rect x="1275" y="312" width="1" height="24" fill="#000"/><rect x="1273" y="334" width="5" height="2" fill="#000"/><rect x="1283" y="315" width="1" height="25" fill="#000"/><rect x="1281" y="326" width="5" height="9" fill="#000"/><rect x="1282" y="327" width="3" height="7" fill="#fff"/><rect x="1291" y="312" width="1" height="16" fill="#000"/><rect x="1289" y="315" width="5" height="11" fill="#000"/><rect x="1290" y="316" width="3" height="9" fill="#fff"/><rect x="1299" y="297" width="1" height="19" fill="#000"/><rect x="1297" y="301" width="5" height="15" fill="#000"/><rect x="1298" y="302" width="3" height="13" fill="#fff"/><rect x="1307" y="282" width="1" height="26" fill="#000"/><rect x="1305" y="300" width="5" height="3" fill="#000"/><rect x="1306" y="301" width="3" height="1" fill="#fff"/><rect x="1315" y="271" width="1" height="29" fill="#000"/><rect x="1313" y="275" width="5" height="25" fill="#000"/><rect x="1314" y="276" width="3" height="23" fill="#fff"/><rect x="1323" y="266" width="1" height="43" fill="#000"/><rect x="1321" y="277" width="5" height="24" fill="#000"/><rect x="1331" y="298" width="1" height="27" fill="#000"/><rect x="1329" y="300" width="5" height="22" fill="#000"/><rect x="1339" y="318" width="1" height="19" fill="#000"/><rect x="1337" y="322" width="5" height="10" fill="#000"/><rect x="1347" y="316" width="1" height="18" fill="#000"/><rect x="1345" y="322" width="5" height="10" fill="#000"/><rect x="1346" y="323" width="3" height="8" fill="#fff"/><rect x="1355" y="299" width="1" height="19" fill="#000"/><rect x="1353" y="311" width="5" height="7" fill="#000"/><rect x="1354" y="312" width="3" height="5" fill="#fff"/><rect x="1597" y="264" width="5" height="5" fill="#fff"/><rect x="1597.5" y="264.5" width="4" height="4" fill="none" stroke="#ff0000" stroke-width="1"/><rect x="1597" y="285" width="5" height="5" fill="#fff"/><rect x="1597.5" y="285.5" width="4" height="4" fill="none" stroke="#ff0000" stroke-width="1"/><rect x="1597" y="319" width="5" height="5" fill="#fff"/><rect x="1597.5" y="319.5" width="4" height="4" fill="none" stroke="#32cd32" stroke-width="1"/><rect x="1597" y="341" width="5" height="5" fill="#fff"/><rect x="1597.5" y="341.5" width="4" height="4" fill="none" stroke="#0000ff" stroke-width="1"/><rect x="1597" y="361" width="5" height="5" fill="#fff"/><rect x="1597.5" y="361.5" width="4" height="4" fill="none" stroke="#0000ff" stroke-width="1"/></g><g clip-path="url(#cd)"><rect x="3" y="618" width="1" height="2" fill="#c0c0c0"/><rect x="11" y="618" width="1" height="2" fill="#c0c0c0"/><rect x="19" y="618" width="1" height="2" fill="#c0c0c0"/><rect x="27" y="618" width="1" height="2" fill="#c0c0c0"/><rect x="35" y="618" width="1" height="2" fill="#c0c0c0"/><rect x="43" y="616" width="1" height="4" fill="#c0c0c0"/><rect x="51" y="616" width="1" height="4" fill="#c0c0c0"/><rect x="59" y="616" width="1" height="4" fill="#c0c0c0"/><rect x="67" y="616" width="1" height="4" fill="#c0c0c0"/><rect x="75" y="616" width="1" height="4" fill="#c0c0c0"/><rect x="83" y="616" width="1" height="4" fill="#c0c0c0"/><rect x="91" y="614" width="1" height="6" fill="#c0c0c0"/><rect x="99" y="614" width="1" height="6" fill="#c0c0c0"/><rect x="107" y="611" width="1" height="9" fill="#c0c0c0"/><rect x="115" y="611" width="1" height="9" fill="#c0c0c0"/><rect x="123" y="610" width="1" height="10" fill="#c0c0c0"/><rect x="131" y="609" width="1" height="11" fill="#c0c0c0"/><rect x="139" y="608" width="1" height="12" fill="#c0c0c0"/><rect x="147" y="608" width="1" height="12" fill="#c0c0c0"/><rect x="155" y="607" width="1" height="13" fill="#c0c0c0"/><rect x="163" y="607" width="1" height="13" fill="#c0c0c0"/><rect x="171" y="607" width="1" height="13" fill="#c0c0c0"/><rect x="179" y="607" width="1" height="13" fill="#c0c0c0"/><rect x="187" y="606" width="1" height="14" fill="#c0c0c0"/><rect x="195" y="607" width="1" height="13" fill="#c0c0c0"/><rect x="203" y="605" width="1" height="15" fill="#c0c0c0"/><rect x="211" y="607" width="1" height="13" fill="#c0c0c0"/><rect x="219" y="607" width="1" height="13" fill="#c0c0c0"/><rect x="227" y="608" width="1" height="12" fill="#c0c0c0"/><rect x="235" y="608" width="1" height="12" fill="#c0c0c0"/><rect x="243" y="608" width="1" height="12" fill="#c0c0c0"/><rect x="251" y="608" width="1" height="12" fill="#c0c0c0"/><rect x="259" y="607" width="1" height="13" fill="#c0c0c0"/><rect x="267" y="607" width="1" height="13" fill="#c0c0c0"/><rect x="275" y="607" width="1" height="13" fill="#c0c0c0"/><rect x="283" y="608" width="1" height="12" fill="#c0c0c0"/><rect x="291" y="608" width="1" height="12" fill="#c0c0c0"/><rect x="299" y="610" width="1" height="10" fill="#c0c0c0"/><rect x="307" y="612" width="1" height="8" fill="#c0c0c0"/><rect x="315" y="614" width="1" height="6" fill="#c0c0c0"/><rect x="323" y="615" width="1" height="5" fill="#c0c0c0"/><rect x="331" y="614" width="1" height="6" fill="#c0c0c0"/><rect x="339" y="614" width="1" height="6" fill="#c0c0c0"/><rect x="347" y="614" width="1" height="6" fill="#c0c0c0"/><rect x="355" y="615" width="1" height="5" fill="#c0c0c0"/><rect x="363" y="615" width="1" height="5" fill="#c0c0c0"/><rect x="371" y="614" width="1" height="6" fill="#c0c0c0"/><rect x="379" y="614" width="1" height="6" fill="#c0c0c0"/><rect x="387" y="614" width="1" height="6" fill="#c0c0c0"/><rect x="395" y="612" width="1" height="8" fill="#c0c0c0"/><rect x="403" y="612" width="1" height="8" fill="#c0c0c0"/><rect x="411" y="613" width="1" height="7" fill="#c0c0c0"/><rect x="419" y="611" width="1" height="9" fill="#c0c0c0"/><rect x="427" y="610" width="1" height="10" fill="#c0c0c0"/><rect x="435" y="611" width="1" height="9" fill="#c0c0c0"/><rect x="443" y="609" width="1" height="11" fill="#c0c0c0"/><rect x="451" y="609" width="1" height="11" fill="#c0c0c0"/><rect x="459" y="609" width="1" height="11" fill="#c0c0c0"/><rect x="467" y="609" width="1" height="11" fill="#c0c0c0"/><rect x="475" y="609" width="1" height="11" fill="#c0c0c0"/><rect x="483" y="609" width="1" height="11" fill="#c0c0c0"/><rect x="491" y="609" width="1" height="11" fill="#c0c0c0"/><rect x="499" y="610" width="1" height="10" fill="#c0c0c0"/><rect x="507" y="610" width="1" height="10" fill="#c0c0c0"/><rect x="515" y="609" width="1" height="11" fill="#c0c0c0"/><rect x="523" y="610" width="1" height="10" fill="#c0c0c0"/><rect x="531" y="611" width="1" height="9" fill="#c0c0c0"/><rect x="539" y="611" width="1" height="9" fill="#c0c0c0"/><rect x="547" y="613" width="1" height="7" fill="#c0c0c0"/><rect x="555" y="612" width="1" height="8" fill="#c0c0c0"/><rect x="563" y="611" width="1" height="9" fill="#c0c0c0"/><rect x="571" y="611" width="1" height="9" fill="#c0c0c0"/><rect x="579" y="611" width="1" height="9" fill="#c0c0c0"/><rect x="587" y="611" width="1" height="9" fill="#c0c0c0"/><rect x="595" y="611" width="1" height="9" fill="#c0c0c0"/><rect x="603" y="611" width="1" height="9" fill="#c0c0c0"/><rect x="611" y="609" width="1" height="11" fill="#c0c0c0"/><rect x="619" y="608" width="1" height="12" fill="#c0c0c0"/><rect x="627" y="607" width="1" height="13" fill="#c0c0c0"/><rect x="635" y="607" width="1" height="13" fill="#c0c0c0"/><rect x="643" y="607" width="1" height="13" fill="#c0c0c0"/><rect x="651" y="609" width="1" height="11" fill="#c0c0c0"/><rect x="659" y="608" width="1" height="12" fill="#c0c0c0"/><rect x="667" y="610" width="1" height="10" fill="#c0c0c0"/><rect x="675" y="612" width="1" height="8" fill="#c0c0c0"/><rect x="683" y="614" width="1" height="6" fill="#c0c0c0"/><rect x="691" y="616" width="1" height="4" fill="#c0c0c0"/><rect x="699" y="617" width="1" height="3" fill="#c0c0c0"/><rect x="707" y="617" width="1" height="3" fill="#c0c0c0"/><rect x="723" y="619" width="1" height="2" fill="#c0c0c0"/><rect x="731" y="619" width="1" height="3" fill="#c0c0c0"/><rect x="739" y="619" width="1" height="3" fill="#c0c0c0"/><rect x="755" y="617" width="1" height="3" fill="#c0c0c0"/><rect x="763" y="617" width="1" height="3" fill="#c0c0c0"/><rect x="771" y="617" width="1" height="3" fill="#c0c0c0"/><rect x="779" y="615" width="1" height="5" fill="#c0c0c0"/><rect x="787" y="614" width="1" height="6" fill="#c0c0c0"/><rect x="795" y="613" width="1" height="7" fill="#c0c0c0"/><rect x="803" y="612" width="1" height="8" fill="#c0c0c0"/><rect x="811" y="611" width="1" height="9" fill="#c0c0c0"/><rect x="819" y="611" width="1" height="9" fill="#c0c0c0"/><rect x="827" y="611" width="1" height="9" fill="#c0c0c0"/><rect x="835" y="611" width="1" height="9" fill="#c0c0c0"/><rect x="843" y="612" width="1" height="8" fill="#c0c0c0"/><rect x="851" y="612" width="1" height="8" fill="#c0c0c0"/><rect x="859" y="614" width="1" height="6" fill="#c0c0c0"/><rect x="867" y="617" width="1" height="3" fill="#c0c0c0"/><rect x="875" y="619" width="1" height="1" fill="#c0c0c0"/><rect x="883" y="619" width="1" height="8" fill="#c0c0c0"/><rect x="891" y="619" width="1" height="14" fill="#c0c0c0"/><rect x="899" y="619" width="1" height="26" fill="#c0c0c0"/><rect x="907" y="619" width="1" height="34" fill="#c0c0c0"/><rect x="915" y="619" width="1" height="42" fill="#c0c0c0"/><rect x="923" y="619" width="1" height="41" fill="#c0c0c0"/><rect x="931" y="619" width="1" height="44" fill="#c0c0c0"/><rect x="939" y="619" width="1" height="40" fill="#c0c0c0"/><rect x="947" y="619" width="1" height="41" fill="#c0c0c0"/><rect x="955" y="619" width="1" height="42" fill="#c0c0c0"/><rect x="963" y="619" width="1" height="47" fill="#c0c0c0"/><rect x="971" y="619" width="1" height="52" fill="#c0c0c0"/><rect x="979" y="619" width="1" height="54" fill="#c0c0c0"/><rect x="987" y="619" width="1" height="60" fill="#c0c0c0"/><rect x="995" y="619" width="1" height="75" fill="#c0c0c0"/><rect x="1003" y="619" width="1" height="77" fill="#c0c0c0"/><rect x="1011" y="619" width="1" height="82" fill="#c0c0c0"/><rect x="1019" y="619" width="1" height="90" fill="#c0c0c0"/><rect x="1027" y="619" width="1" height="97" fill="#c0c0c0"/><rect x="1035" y="619" width="1" height="102" fill="#c0c0c0"/><rect x="1043" y="619" width="1" height="107" fill="#c0c0c0"/><rect x="1051" y="619" width="1" height="112" fill="#c0c0c0"/><rect x="1059" y="619" width="1" height="118" fill="#c0c0c0"/><rect x="1067" y="619" width="1" height="119" fill="#c0c0c0"/><rect x="1075" y="619" width="1" height="112" fill="#c0c0c0"/><rect x="1083" y="619" width="1" height="102" fill="#c0c0c0"/><rect x="1091" y="619" width="1" height="87" fill="#c0c0c0"/><rect x="1099" y="619" width="1" height="79" fill="#c0c0c0"/><rect x="1107" y="619" width="1" height="73" fill="#c0c0c0"/><rect x="1115" y="619" width="1" height="63" fill="#c0c0c0"/><rect x="1123" y="619" width="1" height="57" fill="#c0c0c0"/><rect x="1131" y="619" width="1" height="55" fill="#c0c0c0"/><rect x="1139" y="619" width="1" height="51" fill="#c0c0c0"/><rect x="1147" y="619" width="1" height="48" fill="#c0c0c0"/><rect x="1155" y="619" width="1" height="45" fill="#c0c0c0"/><rect x="1163" y="619" width="1" height="35" fill="#c0c0c0"/><rect x="1171" y="619" width="1" height="28" fill="#c0c0c0"/><rect x="1179" y="619" width="1" height="18" fill="#c0c0c0"/><rect x="1187" y="619" width="1" height="9" fill="#c0c0c0"/><rect x="1195" y="619" width="1" height="3" fill="#c0c0c0"/><rect x="1203" y="619" width="1" height="1" fill="#c0c0c0"/><rect x="1211" y="613" width="1" height="7" fill="#c0c0c0"/><rect x="1219" y="612" width="1" height="8" fill="#c0c0c0"/><rect x="1227" y="607" width="1" height="13" fill="#c0c0c0"/><rect x="1235" y="603" width="1" height="17" fill="#c0c0c0"/><rect x="1243" y="600" width="1" height="20" fill="#c0c0c0"/><rect x="1251" y="601" width="1" height="19" fill="#c0c0c0"/><rect x="1259" y="604" width="1" height="16" fill="#c0c0c0"/><rect x="1267" y="606" width="1" height="14" fill="#c0c0c0"/><rect x="1275" y="606" width="1" height="14" fill="#c0c0c0"/><rect x="1283" y="605" width="1" height="15" fill="#c0c0c0"/><rect x="1291" y="605" width="1" height="15" fill="#c0c0c0"/><rect x="1299" y="604" width="1" height="16" fill="#c0c0c0"/><rect x="1307" y="603" width="1" height="17" fill="#c0c0c0"/><rect x="1315" y="600" width="1" height="20" fill="#c0c0c0"/><rect x="1323" y="600" width="1" height="20" fill="#c0c0c0"/><rect x="1331" y="602" width="1" height="18" fill="#c0c0c0"/><rect x="1339" y="605" width="1" height="15" fill="#c0c0c0"/><rect x="1347" y="606" width="1" height="14" fill="#c0c0c0"/><rect x="1355" y="607" width="1" height="13" fill="#c0c0c0"/><polyline points="-6,618.9 3.5,618.9 11.5,618.2 19.5,618.2 27.5,617.5 35.5,617.5 43.5,616.5 51.5,616.5 59.5,616.5 67.5,616.5 75.5,616.5 83.5,615.3 91.5,615.3 99.5,614.4 107.5,614.0 115.5,613.4 123.5,612.4 131.5,611.4 139.5,611.4 147.5,610.5 155.5,609.5 163.5,608.5 171.5,608.5 179.5,607.5 187.5,607.5 195.5,606.6 203.5,606.6 211.5,606.6 219.5,605.5 227.5,605.5 235.5,605.5 243.5,606.6 251.5,606.6 259.5,606.6 267.5,606.6 275.5,606.6 283.5,607.5 291.5,607.5 299.5,607.5 307.5,607.5 315.5,608.4 323.5,609.1 331.5,609.6 339.5,610.5 347.5,611.4 355.5,612.3 363.5,613.5 371.5,613.5 379.5,613.5 387.5,613.5 395.5,613.5 403.5,613.5 411.5,612.6 419.5,612.3 427.5,611.4 435.5,611.4 443.5,610.5 451.5,610.5 459.5,610.5 467.5,609.4 475.5,609.4 483.5,608.5 491.5,608.5 499.5,608.5 507.5,608.5 515.5,608.5 523.5,608.5 531.5,609.4 539.5,609.4 547.5,609.4 555.5,610.5 563.5,610.5 571.5,610.5 579.5,610.5 587.5,610.5 595.5,610.5 603.5,610.5 611.5,610.5 619.5,609.4 627.5,609.4 635.5,608.4 643.5,608.4 651.5,608.4 659.5,607.5 667.5,607.5 675.5,607.5 683.5,608.4 691.5,609.4 699.5,610.5 707.5,611.4 715.5,613.4 723.5,614.4 731.5,615.5 739.5,617.0 747.5,618.2 755.5,618.4 763.5,619.4 771.5,619.4 779.5,618.4 787.5,618.4 795.5,617.5 803.5,616.0 811.5,614.4 819.5,613.4 827.5,612.4 835.5,612.4 843.5,611.4 851.5,611.4 859.5,611.4 867.5,611.4 875.5,612.6 883.5,614.5 891.5,617.1 899.5,620.7 907.5,626.0 915.5,631.4 923.5,638.0 931.5,642.9 939.5,646.7 947.5,649.8 955.5,655.1 963.5,658.9 971.5,661.2 979.5,664.3 987.5,666.1 995.5,670.4 1003.5,673.5 1011.5,677.8 1019.5,682.7 1027.5,689.6 1035.5,695.7 1043.5,701.8 1051.5,708.7 1059.5,714.1 1067.5,719.4 1075.5,723.2 1083.5,725.8 1091.5,725.2 1099.5,723.2 1107.5,720.1 1115.5,715.3 1123.5,707.7 1131.5,701.3 1139.5,693.1 1147.5,685.4 1155.5,681.0 1163.5,675.8 1171.5,668.6 1179.5,663.4 1187.5,657.0 1195.5,650.8 1203.5,646.0 1211.5,639.8 1219.5,632.9 1227.5,627.2 1235.5,618.8 1243.5,614.5 1251.5,611.2 1259.5,607.8 1267.5,606.5 1275.5,605.5 1283.5,604.3 1291.5,603.3 1299.5,603.3 1307.5,603.1 1315.5,602.5 1323.5,602.5 1331.5,602.5 1339.5,602.5 1347.5,602.5 1355.5,602.5" fill="none" stroke="#ff0000" stroke-width="1" stroke-dasharray="3 3"/></g><g clip-path="url(#cr)"><line x1="2" y1="784.5" x2="1602" y2="784.5" stroke="#c0c0c0" stroke-width="1" stroke-dasharray="3 3"/><line x1="2" y1="835.5" x2="1602" y2="835.5" stroke="#c0c0c0" stroke-width="1" stroke-dasharray="3 3"/><line x1="2" y1="896.5" x2="1602" y2="896.5" stroke="#c0c0c0" stroke-width="1" stroke-dasharray="3 3"/><polyline points="-5,832.5 3.5,832.5 11.5,832.5 19.5,834.2 27.5,831.5 35.5,834.5 43.5,827.4 51.5,825.2 59.5,820.6 67.5,821.3 75.5,816.7 83.5,827.4 91.5,815.5 99.5,813.3 107.5,808.7 115.5,809.4 123.5,810.4 131.5,801.4 139.5,805.3 147.5,805.3 155.5,804.3 163.5,804.3 171.5,800.6 179.5,799.2 187.5,792.4 195.5,794.6 203.5,792.4 211.5,807.0 219.5,816.2 227.5,817.2 235.5,810.4 243.5,807.0 251.5,801.4 259.5,798.5 267.5,803.1 275.5,801.4 283.5,806.0 291.5,804.3 299.5,833.2 307.5,849.0 315.5,841.0 323.5,837.1 331.5,820.6 339.5,820.6 347.5,827.4 355.5,828.6 363.5,825.2 371.5,811.6 379.5,817.2 387.5,817.2 395.5,815.5 403.5,812.5 411.5,811.1 419.5,805.7 427.5,802.6 435.5,801.4 443.5,799.7 451.5,805.3 459.5,804.3 467.5,799.7 475.5,800.6 483.5,798.5 491.5,817.9 499.5,813.8 507.5,812.1 515.5,797.5 523.5,820.1 531.5,826.9 539.5,821.8 547.5,841.3 555.5,819.6 563.5,814.5 571.5,822.3 579.5,821.3 587.5,817.2 595.5,821.3 603.5,815.5 611.5,806.5 619.5,807.4 627.5,806.5 635.5,808.2 643.5,815.0 651.5,821.3 659.5,817.2 667.5,832.5 675.5,843.9 683.5,849.0 691.5,841.3 699.5,840.0 707.5,835.4 715.5,858.3 723.5,857.5 731.5,852.9 739.5,835.4 747.5,818.4 755.5,814.5 763.5,827.4 771.5,832.0 779.5,822.6 787.5,821.3 795.5,817.5 803.5,818.4 811.5,818.5 819.5,816.3 827.5,820.9 835.5,824.3 843.5,821.4 851.5,835.0 859.5,839.2 867.5,852.0 875.5,867.3 883.5,880.8 891.5,884.8 899.5,895.3 907.5,896.6 915.5,899.5 923.5,857.6 931.5,866.1 939.5,847.4 947.5,855.4 955.5,857.9 963.5,868.1 971.5,871.5 979.5,867.3 987.5,874.1 995.5,887.1 1003.5,860.5 1011.5,865.6 1019.5,872.4 1027.5,874.1 1035.5,874.1 1043.5,877.5 1051.5,879.1 1059.5,883.1 1067.5,875.8 1075.5,856.2 1083.5,850.3 1091.5,838.4 1099.5,845.4 1107.5,848.2 1115.5,839.4 1123.5,844.2 1131.5,847.2 1139.5,845.4 1147.5,847.2 1155.5,844.2 1163.5,831.4 1171.5,832.4 1179.5,824.8 1187.5,823.1 1195.5,827.1 1203.5,826.1 1211.5,822.2 1219.5,829.2 1227.5,821.3 1235.5,821.3 1243.5,822.6 1251.5,826.6 1259.5,835.4 1267.5,832.4 1275.5,832.4 1283.5,827.5 1291.5,828.4 1299.5,823.6 1307.5,823.1 1315.5,816.6 1323.5,825.4 1331.5,832.4 1339.5,837.2 1347.5,832.4 1355.5,830.1" fill="none" stroke="#1e90ff" stroke-width="1"/></g><rect x="0" y="21" width="1603" height="1" fill="#000"/><rect x="0" y="588" width="1603" height="1" fill="#000"/><rect x="0" y="590" width="1603" height="1" fill="#000"/><rect x="0" y="746" width="1603" height="1" fill="#000"/><rect x="0" y="748" width="1603" height="1" fill="#000"/><rect x="0" y="922" width="1603" height="1" fill="#000"/><rect x="1602" y="21" width="1" height="902" fill="#000"/><rect x="1603" y="24" width="3" height="1" fill="#000"/><rect x="1603" y="57" width="3" height="1" fill="#000"/><rect x="1603" y="90" width="3" height="1" fill="#000"/><rect x="1603" y="124" width="3" height="1" fill="#000"/><rect x="1603" y="156" width="3" height="1" fill="#000"/><rect x="1603" y="189" width="3" height="1" fill="#000"/><rect x="1603" y="222" width="3" height="1" fill="#000"/><rect x="1603" y="255" width="3" height="1" fill="#000"/><rect x="1603" y="288" width="3" height="1" fill="#000"/><rect x="1603" y="321" width="3" height="1" fill="#000"/><rect x="1603" y="353" width="3" height="1" fill="#000"/><rect x="1603" y="387" width="3" height="1" fill="#000"/><rect x="1603" y="420" width="3" height="1" fill="#000"/><rect x="1603" y="453" width="3" height="1" fill="#000"/><rect x="1603" y="486" width="3" height="1" fill="#000"/><rect x="1603" y="519" width="3" height="1" fill="#000"/><rect x="1603" y="552" width="3" height="1" fill="#000"/><rect x="1603" y="585" width="3" height="1" fill="#000"/><rect x="1603" y="591" width="2" height="1" fill="#000"/><rect x="1603" y="619" width="3" height="1" fill="#000"/><rect x="1603" y="745" width="1" height="1" fill="#000"/><rect x="1603" y="749" width="2" height="1" fill="#000"/><rect x="1603" y="921" width="1" height="1" fill="#000"/><rect x="59" y="922" width="1" height="4" fill="#000"/><rect x="123" y="922" width="1" height="4" fill="#000"/><rect x="187" y="922" width="1" height="4" fill="#000"/><rect x="251" y="922" width="1" height="4" fill="#000"/><rect x="315" y="922" width="1" height="4" fill="#000"/><rect x="379" y="922" width="1" height="4" fill="#000"/><rect x="443" y="922" width="1" height="4" fill="#000"/><rect x="507" y="922" width="1" height="4" fill="#000"/><rect x="571" y="922" width="1" height="4" fill="#000"/><rect x="635" y="922" width="1" height="4" fill="#000"/><rect x="699" y="922" width="1" height="4" fill="#000"/><rect x="763" y="922" width="1" height="4" fill="#000"/><rect x="827" y="922" width="1" height="4" fill="#000"/><rect x="891" y="922" width="1" height="4" fill="#000"/><rect x="955" y="922" width="1" height="4" fill="#000"/><rect x="1019" y="922" width="1" height="4" fill="#000"/><rect x="1083" y="922" width="1" height="4" fill="#000"/><rect x="1147" y="922" width="1" height="4" fill="#000"/><rect x="1211" y="922" width="1" height="4" fill="#000"/><rect x="1275" y="922" width="1" height="4" fill="#000"/><rect x="1339" y="922" width="1" height="4" fill="#000"/><rect x="0" y="943" width="1649" height="1" fill="#e3e3e3"/><rect x="0" y="945" width="85" height="1" fill="#101010"/><rect x="171" y="945" width="1478" height="1" fill="#101010"/><rect x="0" y="946" width="85" height="1" fill="#101010"/><rect x="171" y="946" width="1478" height="1" fill="#101010"/><rect x="84" y="945" width="1" height="2" fill="#101010"/><rect x="171" y="945" width="1" height="2" fill="#101010"/><rect x="1648" y="19" width="1" height="925" fill="#e3e3e3"/><rect x="1604" y="260" width="41" height="11" fill="#ff0000"/><rect x="1604" y="281" width="41" height="11" fill="#ff0000"/><rect x="1604" y="305" width="41" height="10" fill="#000000"/><rect x="1604" y="315" width="41" height="11" fill="#32cd32"/><rect x="1604" y="337" width="41" height="11" fill="#0000ff"/><rect x="1604" y="357" width="41" height="11" fill="#0000ff"/></svg>
<svg width="1649" height="947" style="position:absolute;left:0;top:0" shape-rendering="crispEdges"><line x1="1155.3" y1="435.7" x2="1229" y2="295" stroke="#ff0000" stroke-width="3.4" stroke-linecap="round"/><polygon points="1232.3,289.5 1230.7,303.3 1221.8,298.7" fill="#ff0000"/><line x1="1234" y1="291" x2="1262" y2="342" stroke="#ff0000" stroke-width="3.4" stroke-linecap="round"/><polygon points="1265.6,348.5 1254.9,339.6 1263.6,334.7" fill="#ff0000"/><line x1="1269" y1="347.5" x2="1319" y2="275" stroke="#ff0000" stroke-width="3.4" stroke-linecap="round"/><polygon points="1323.8,267.8 1320.6,281.3 1312.3,275.7" fill="#ff0000"/><line x1="1324.5" y1="272" x2="1342" y2="335" stroke="#ff0000" stroke-width="3.4" stroke-linecap="round"/><polygon points="1344.5,343 1336.2,331.8 1345.8,329.1" fill="#ff0000"/><line x1="1346" y1="341" x2="1367" y2="310.5" stroke="#ff0000" stroke-width="3.4" stroke-linecap="round"/><rect x="1241" y="316" width="153" height="9" fill="#00ff00"/></svg>
<svg width="1649" height="947" style="position:absolute;left:0;top:0"><text transform="translate(1608,29.2) scale(0.93,1)" x="0" y="0" font-family='"Liberation Sans", "DejaVu Sans", sans-serif' font-size="10" fill="#000" text-anchor="start" font-weight="normal" >30076.0</text><text transform="translate(1608,62.0) scale(0.93,1)" x="0" y="0" font-family='"Liberation Sans", "DejaVu Sans", sans-serif' font-size="10" fill="#000" text-anchor="start" font-weight="normal" >29366.5</text><text transform="translate(1608,95.2) scale(0.93,1)" x="0" y="0" font-family='"Liberation Sans", "DejaVu Sans", sans-serif' font-size="10" fill="#000" text-anchor="start" font-weight="normal" >28635.5</text><text transform="translate(1608,128.29999999999998) scale(0.93,1)" x="0" y="0" font-family='"Liberation Sans", "DejaVu Sans", sans-serif' font-size="10" fill="#000" text-anchor="start" font-weight="normal" >27904.5</text><text transform="translate(1608,161.1) scale(0.93,1)" x="0" y="0" font-family='"Liberation Sans", "DejaVu Sans", sans-serif' font-size="10" fill="#000" text-anchor="start" font-weight="normal" >27195.0</text><text transform="translate(1608,193.89999999999998) scale(0.93,1)" x="0" y="0" font-family='"Liberation Sans", "DejaVu Sans", sans-serif' font-size="10" fill="#000" text-anchor="start" font-weight="normal" >26464.0</text><text transform="translate(1608,227.0) scale(0.93,1)" x="0" y="0" font-family='"Liberation Sans", "DejaVu Sans", sans-serif' font-size="10" fill="#000" text-anchor="start" font-weight="normal" >25733.0</text><text transform="translate(1608,259.9) scale(0.93,1)" x="0" y="0" font-family='"Liberation Sans", "DejaVu Sans", sans-serif' font-size="10" fill="#000" text-anchor="start" font-weight="normal" >25023.5</text><text transform="translate(1608,358.0) scale(0.93,1)" x="0" y="0" font-family='"Liberation Sans", "DejaVu Sans", sans-serif' font-size="10" fill="#000" text-anchor="start" font-weight="normal" >22852.0</text><text transform="translate(1608,391.7) scale(0.93,1)" x="0" y="0" font-family='"Liberation Sans", "DejaVu Sans", sans-serif' font-size="10" fill="#000" text-anchor="start" font-weight="normal" >22121.0</text><text transform="translate(1608,425.09999999999997) scale(0.93,1)" x="0" y="0" font-family='"Liberation Sans", "DejaVu Sans", sans-serif' font-size="10" fill="#000" text-anchor="start" font-weight="normal" >21411.5</text><text transform="translate(1608,457.9) scale(0.93,1)" x="0" y="0" font-family='"Liberation Sans", "DejaVu Sans", sans-serif' font-size="10" fill="#000" text-anchor="start" font-weight="normal" >20680.5</text><text transform="translate(1608,490.9) scale(0.93,1)" x="0" y="0" font-family='"Liberation Sans", "DejaVu Sans", sans-serif' font-size="10" fill="#000" text-anchor="start" font-weight="normal" >19949.5</text><text transform="translate(1608,524.0) scale(0.93,1)" x="0" y="0" font-family='"Liberation Sans", "DejaVu Sans", sans-serif' font-size="10" fill="#000" text-anchor="start" font-weight="normal" >19240.0</text><text transform="translate(1608,556.7) scale(0.93,1)" x="0" y="0" font-family='"Liberation Sans", "DejaVu Sans", sans-serif' font-size="10" fill="#000" text-anchor="start" font-weight="normal" >18509.0</text><text transform="translate(1608,589.8000000000001) scale(0.93,1)" x="0" y="0" font-family='"Liberation Sans", "DejaVu Sans", sans-serif' font-size="10" fill="#000" text-anchor="start" font-weight="normal" >17799.5</text><text transform="translate(1605.5,601.9000000000001) scale(0.93,1)" x="0" y="0" font-family='"Liberation Sans", "DejaVu Sans", sans-serif' font-size="10" fill="#000" text-anchor="start" font-weight="normal" >516.54</text><text transform="translate(1605.5,623.4000000000001) scale(0.93,1)" x="0" y="0" font-family='"Liberation Sans", "DejaVu Sans", sans-serif' font-size="10" fill="#000" text-anchor="start" font-weight="normal" >0.00</text><text transform="translate(1605.5,743.9000000000001) scale(0.93,1)" x="0" y="0" font-family='"Liberation Sans", "DejaVu Sans", sans-serif' font-size="10" fill="#000" text-anchor="start" font-weight="normal" >-2409.06</text><text transform="translate(1605,759.7) scale(0.93,1)" x="0" y="0" font-family='"Liberation Sans", "DejaVu Sans", sans-serif' font-size="10" fill="#000" text-anchor="start" font-weight="normal" >100</text><text transform="translate(1605,788.5) scale(0.93,1)" x="0" y="0" font-family='"Liberation Sans", "DejaVu Sans", sans-serif' font-size="10" fill="#000" text-anchor="start" font-weight="normal" >80</text><text transform="translate(1605,839.4000000000001) scale(0.93,1)" x="0" y="0" font-family='"Liberation Sans", "DejaVu Sans", sans-serif' font-size="10" fill="#000" text-anchor="start" font-weight="normal" >50</text><text transform="translate(1605,900.6) scale(0.93,1)" x="0" y="0" font-family='"Liberation Sans", "DejaVu Sans", sans-serif' font-size="10" fill="#000" text-anchor="start" font-weight="normal" >15</text><text transform="translate(1605,919.7) scale(0.93,1)" x="0" y="0" font-family='"Liberation Sans", "DejaVu Sans", sans-serif' font-size="10" fill="#000" text-anchor="start" font-weight="normal" >0</text><text transform="translate(1607,268.9) scale(0.93,1)" x="0" y="0" font-family='"Liberation Sans", "DejaVu Sans", sans-serif' font-size="10" fill="#fff" text-anchor="start" font-weight="normal" >24778.0</text><text transform="translate(1607,289.9) scale(0.93,1)" x="0" y="0" font-family='"Liberation Sans", "DejaVu Sans", sans-serif' font-size="10" fill="#fff" text-anchor="start" font-weight="normal" >24318.7</text><text transform="translate(1607,313.4) scale(0.93,1)" x="0" y="0" font-family='"Liberation Sans", "DejaVu Sans", sans-serif' font-size="10" fill="#fff" text-anchor="start" font-weight="normal" >23784.0</text><text transform="translate(1607,323.9) scale(0.93,1)" x="0" y="0" font-family='"Liberation Sans", "DejaVu Sans", sans-serif' font-size="10" fill="#fff" text-anchor="start" font-weight="normal" >23575.0</text><text transform="translate(1607,345.9) scale(0.93,1)" x="0" y="0" font-family='"Liberation Sans", "DejaVu Sans", sans-serif' font-size="10" fill="#fff" text-anchor="start" font-weight="normal" >23093.8</text><text transform="translate(1607,365.9) scale(0.93,1)" x="0" y="0" font-family='"Liberation Sans", "DejaVu Sans", sans-serif' font-size="10" fill="#fff" text-anchor="start" font-weight="normal" >22656.4</text><text transform="translate(-6,934.6) scale(0.93,1)" x="0" y="0" font-family='"Liberation Sans", "DejaVu Sans", sans-serif' font-size="10" fill="#000" text-anchor="start" font-weight="normal" >18 Oct 2019</text><text transform="translate(58,934.6) scale(0.93,1)" x="0" y="0" font-family='"Liberation Sans", "DejaVu Sans", sans-serif' font-size="10" fill="#000" text-anchor="start" font-weight="normal" >28 Oct 2019</text><text transform="translate(122,934.6) scale(0.93,1)" x="0" y="0" font-family='"Liberation Sans", "DejaVu Sans", sans-serif' font-size="10" fill="#000" text-anchor="start" font-weight="normal" >6 Nov 2019</text><text transform="translate(186,934.6) scale(0.93,1)" x="0" y="0" font-family='"Liberation Sans", "DejaVu Sans", sans-serif' font-size="10" fill="#000" text-anchor="start" font-weight="normal" >15 Nov 2019</text><text transform="translate(250,934.6) scale(0.93,1)" x="0" y="0" font-family='"Liberation Sans", "DejaVu Sans", sans-serif' font-size="10" fill="#000" text-anchor="start" font-weight="normal" >25 Nov 2019</text><text transform="translate(314,934.6) scale(0.93,1)" x="0" y="0" font-family='"Liberation Sans", "DejaVu Sans", sans-serif' font-size="10" fill="#000" text-anchor="start" font-weight="normal" >4 Dec 2019</text><text transform="translate(378,934.6) scale(0.93,1)" x="0" y="0" font-family='"Liberation Sans", "DejaVu Sans", sans-serif' font-size="10" fill="#000" text-anchor="start" font-weight="normal" >13 Dec 2019</text><text transform="translate(442,934.6) scale(0.93,1)" x="0" y="0" font-family='"Liberation Sans", "DejaVu Sans", sans-serif' font-size="10" fill="#000" text-anchor="start" font-weight="normal" >23 Dec 2019</text><text transform="translate(506,934.6) scale(0.93,1)" x="0" y="0" font-family='"Liberation Sans", "DejaVu Sans", sans-serif' font-size="10" fill="#000" text-anchor="start" font-weight="normal" >1 Jan 2020</text><text transform="translate(570,934.6) scale(0.93,1)" x="0" y="0" font-family='"Liberation Sans", "DejaVu Sans", sans-serif' font-size="10" fill="#000" text-anchor="start" font-weight="normal" >10 Jan 2020</text><text transform="translate(634,934.6) scale(0.93,1)" x="0" y="0" font-family='"Liberation Sans", "DejaVu Sans", sans-serif' font-size="10" fill="#000" text-anchor="start" font-weight="normal" >20 Jan 2020</text><text transform="translate(698,934.6) scale(0.93,1)" x="0" y="0" font-family='"Liberation Sans", "DejaVu Sans", sans-serif' font-size="10" fill="#000" text-anchor="start" font-weight="normal" >29 Jan 2020</text><text transform="translate(762,934.6) scale(0.93,1)" x="0" y="0" font-family='"Liberation Sans", "DejaVu Sans", sans-serif' font-size="10" fill="#000" text-anchor="start" font-weight="normal" >7 Feb 2020</text><text transform="translate(826,934.6) scale(0.93,1)" x="0" y="0" font-family='"Liberation Sans", "DejaVu Sans", sans-serif' font-size="10" fill="#000" text-anchor="start" font-weight="normal" >17 Feb 2020</text><text transform="translate(890,934.6) scale(0.93,1)" x="0" y="0" font-family='"Liberation Sans", "DejaVu Sans", sans-serif' font-size="10" fill="#000" text-anchor="start" font-weight="normal" >26 Feb 2020</text><text transform="translate(954,934.6) scale(0.93,1)" x="0" y="0" font-family='"Liberation Sans", "DejaVu Sans", sans-serif' font-size="10" fill="#000" text-anchor="start" font-weight="normal" >6 Mar 2020</text><text transform="translate(1018,934.6) scale(0.93,1)" x="0" y="0" font-family='"Liberation Sans", "DejaVu Sans", sans-serif' font-size="10" fill="#000" text-anchor="start" font-weight="normal" >16 Mar 2020</text><text transform="translate(1082,934.6) scale(0.93,1)" x="0" y="0" font-family='"Liberation Sans", "DejaVu Sans", sans-serif' font-size="10" fill="#000" text-anchor="start" font-weight="normal" >25 Mar 2020</text><text transform="translate(1146,934.6) scale(0.93,1)" x="0" y="0" font-family='"Liberation Sans", "DejaVu Sans", sans-serif' font-size="10" fill="#000" text-anchor="start" font-weight="normal" >3 Apr 2020</text><text transform="translate(1210,934.6) scale(0.93,1)" x="0" y="0" font-family='"Liberation Sans", "DejaVu Sans", sans-serif' font-size="10" fill="#000" text-anchor="start" font-weight="normal" >14 Apr 2020</text><text transform="translate(1274,934.6) scale(0.93,1)" x="0" y="0" font-family='"Liberation Sans", "DejaVu Sans", sans-serif' font-size="10" fill="#000" text-anchor="start" font-weight="normal" >23 Apr 2020</text><text transform="translate(1338,934.6) scale(0.93,1)" x="0" y="0" font-family='"Liberation Sans", "DejaVu Sans", sans-serif' font-size="10" fill="#000" text-anchor="start" font-weight="normal" >3 May 2020</text><text transform="translate(0,603) scale(0.93,1)" x="0" y="0" font-family='"Liberation Sans", "DejaVu Sans", sans-serif' font-size="10" fill="#000" text-anchor="start" font-weight="normal" >MACD(12,26,9) 243.75 308.67</text><text transform="translate(0,760.9) scale(0.93,1)" x="0" y="0" font-family='"Liberation Sans", "DejaVu Sans", sans-serif' font-size="10" fill="#000" text-anchor="start" font-weight="normal" >RSI(14) 53.3507</text><text transform="translate(10.5,32.8) scale(0.93,1)" x="0" y="0" font-family='"Liberation Sans", "DejaVu Sans", sans-serif' font-size="10" fill="#000" text-anchor="start" font-weight="normal" >DJ30-,Daily&#160;&#160;23641.0 24053.0 23640.0 23784.0</text><rect x="1446.5" y="309.5" width="73" height="24" fill="#fff" stroke="#ff0000" stroke-width="1" shape-rendering="crispEdges"/><rect x="1436" y="321" width="8" height="1" fill="#ff0000" shape-rendering="crispEdges"/><rect x="1443.5" y="319.5" width="3" height="3" fill="#fff" stroke="#ff0000" stroke-width="1" shape-rendering="crispEdges"/><text x="1447.5" y="329.6" font-family='"Liberation Sans", "DejaVu Sans", sans-serif' font-size="21.5" fill="#ff0000" text-anchor="start" font-weight="normal" textLength="70" lengthAdjust="spacingAndGlyphs">23575.0</text><text x="1382.5" y="375" font-family='"Liberation Sans", "Noto Sans CJK SC", sans-serif' font-size="33.4" fill="#000" text-anchor="start" font-weight="normal" >多空转折点、</text><text x="1381.5" y="374" font-family='"Liberation Sans", "Noto Sans CJK SC", sans-serif' font-size="33.4" fill="#00ff00" text-anchor="start" font-weight="normal" >多空转折点、</text><polygon points="0,32 2.5,28 5,32" fill="#000"/><polygon points="1371,22 1381,22 1376,27" fill="#c0c0c0"/><defs><linearGradient id="gh" x1="0" y1="0" x2="0" y2="1"><stop offset="0" stop-color="#5a5aff"/><stop offset="1" stop-color="#3434e0"/></linearGradient><linearGradient id="gp" x1="0" y1="0" x2="0" y2="1"><stop offset="0" stop-color="#3c3ce8"/><stop offset="0.5" stop-color="#1c1cc8"/><stop offset="1" stop-color="#0000a8"/></linearGradient><linearGradient id="gb" x1="0" y1="0" x2="0" y2="1"><stop offset="0" stop-color="#f6f6f6"/><stop offset="0.45" stop-color="#e8e8e8"/><stop offset="0.5" stop-color="#dcdcdc"/><stop offset="1" stop-color="#d0d0d0"/></linearGradient></defs><g shape-rendering="crispEdges"><rect x="0" y="41" width="50" height="25" fill="#0000a8"/><rect x="0" y="42" width="49" height="24" fill="url(#gh)"/><rect x="0" y="65" width="107" height="40" fill="#0000a8"/><rect x="0" y="66" width="106" height="39" fill="url(#gp)"/><rect x="0" y="64" width="49" height="2" fill="#3434e0"/><rect x="2" y="64" width="44" height="1" fill="#00008b"/><rect x="2" y="65" width="44" height="1" fill="#7070ff"/><rect x="165" y="41" width="52" height="25" fill="#0000a8"/><rect x="166" y="42" width="50" height="24" fill="url(#gh)"/><rect x="109" y="65" width="108" height="40" fill="#0000a8"/><rect x="110" y="66" width="106" height="39" fill="url(#gp)"/><rect x="166" y="64" width="50" height="2" fill="#3434e0"/><rect x="169" y="64" width="44" height="1" fill="#00008b"/><rect x="169" y="65" width="44" height="1" fill="#7070ff"/><rect x="52" y="41" width="112" height="22" fill="#a8a8a8"/><rect x="53" y="42" width="110" height="20" fill="#fff"/><rect x="54" y="43" width="19" height="18" fill="url(#gb)"/><rect x="73" y="42" width="1" height="20" fill="#b8b8b8"/><rect x="142" y="42" width="1" height="20" fill="#b8b8b8"/><rect x="143" y="43" width="19" height="18" fill="url(#gb)"/></g><polygon points="60,50 65,50 62.5,53" fill="#5070c8"/><polygon points="150,53 155,53 152.5,50" fill="#5070c8"/><text x="10.6" y="56.9" font-family='"Liberation Sans", "DejaVu Sans", sans-serif' font-size="12.5" fill="#fff" text-anchor="start" font-weight="normal" textLength="25.4" lengthAdjust="spacingAndGlyphs">SELL</text><text x="178.7" y="56.9" font-family='"Liberation Sans", "DejaVu Sans", sans-serif' font-size="12.5" fill="#fff" text-anchor="start" font-weight="normal" textLength="23.3" lengthAdjust="spacingAndGlyphs">BUY</text><text x="114.8" y="55.7" font-family='"Liberation Sans", "DejaVu Sans", sans-serif' font-size="11.7" fill="#000" text-anchor="start" font-weight="normal" textLength="22.9" lengthAdjust="spacingAndGlyphs">1.00</text><text x="14.3" y="96" font-family='"Liberation Sans", "DejaVu Sans", sans-serif' font-size="12.4" fill="#fff" text-anchor="start" font-weight="bold" textLength="34.4" lengthAdjust="spacingAndGlyphs">23782</text><text x="124.4" y="96" font-family='"Liberation Sans", "DejaVu Sans", sans-serif' font-size="12.4" fill="#fff" text-anchor="start" font-weight="bold" textLength="34.8" lengthAdjust="spacingAndGlyphs">23792</text><rect x="53.9" y="91.7" width="4" height="4.3" rx="1" fill="#fff"/><text transform="translate(60.6,96) scale(0.84,1)" x="0" y="0" font-family='"Liberation Sans", "DejaVu Sans", sans-serif' font-size="33.5" fill="#fff" text-anchor="start" font-weight="normal" >5</text><rect x="164.6" y="91.7" width="4" height="4.3" rx="1" fill="#fff"/><text transform="translate(171.3,96) scale(0.84,1)" x="0" y="0" font-family='"Liberation Sans", "DejaVu Sans", sans-serif' font-size="33.5" fill="#fff" text-anchor="start" font-weight="normal" >5</text></svg>
</body></html>
